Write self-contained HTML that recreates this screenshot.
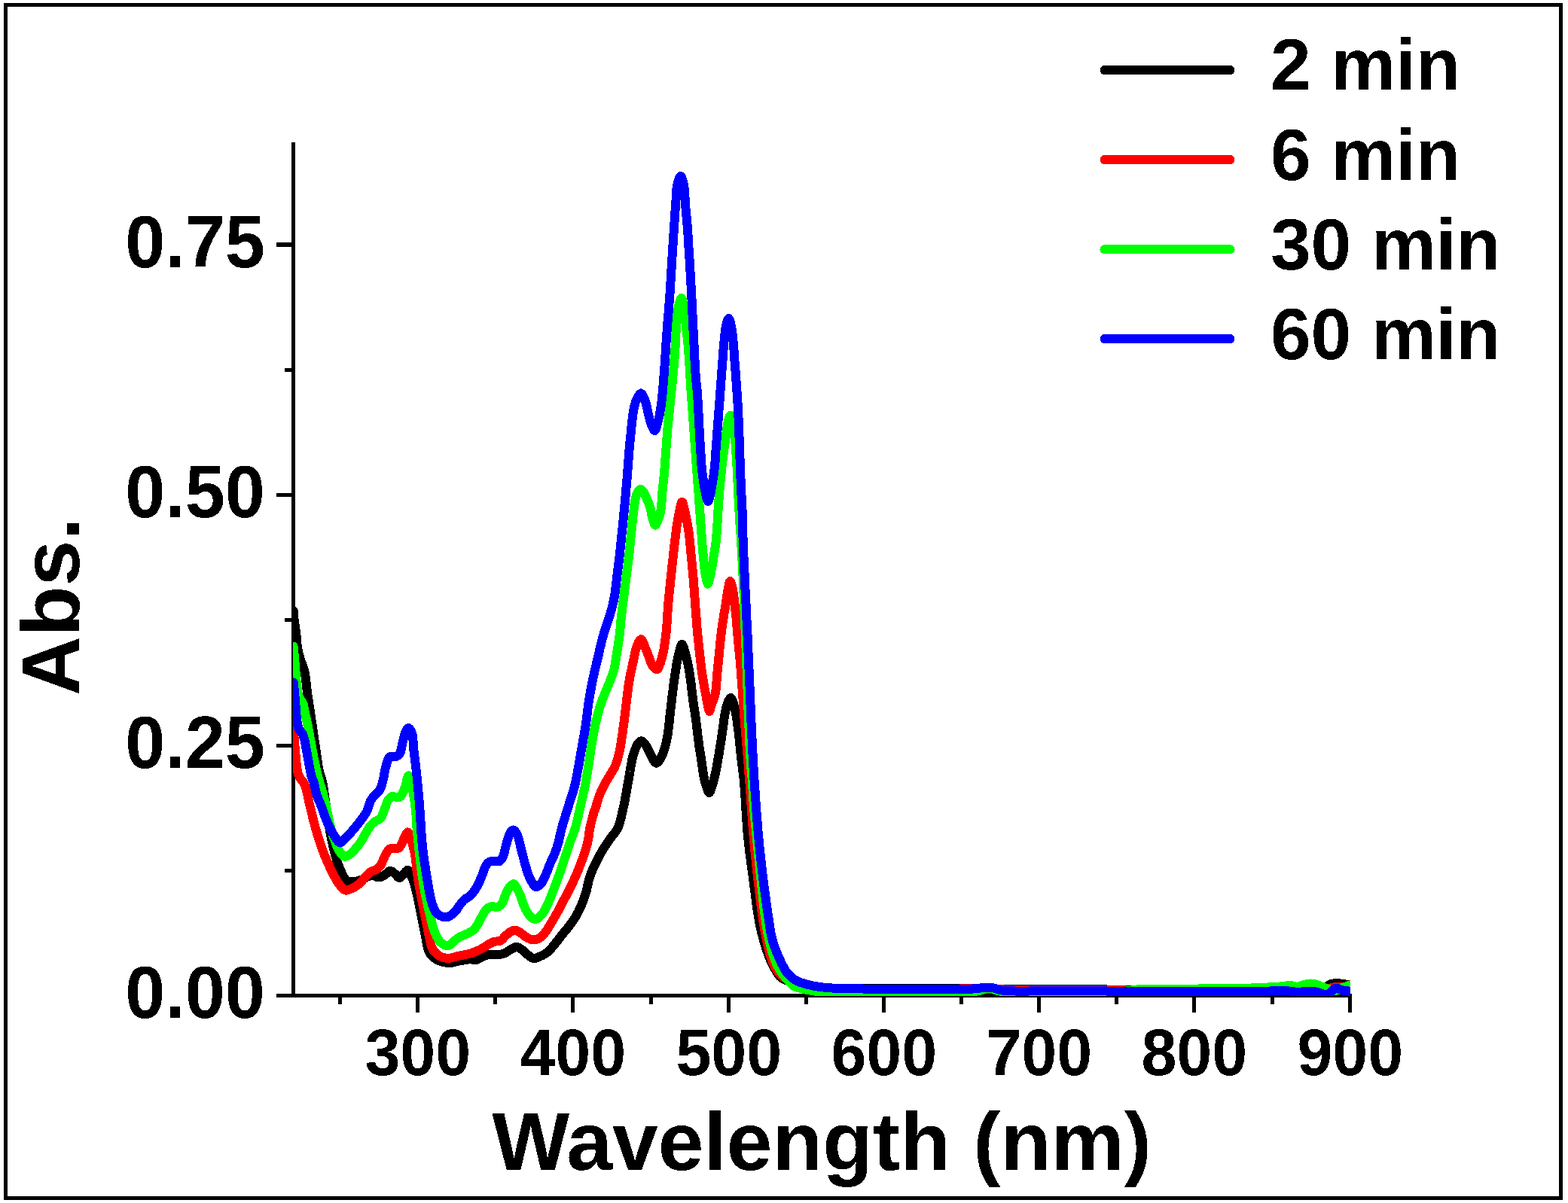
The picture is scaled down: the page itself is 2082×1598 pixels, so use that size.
<!DOCTYPE html>
<html lang="en">
<head>
<meta charset="utf-8">
<title>UV-Vis absorption spectra</title>
<style>
html,body{margin:0;padding:0;background:#fff;}
body{width:2082px;height:1598px;}
svg{display:block;}
</style>
</head>
<body>
<svg width="2082" height="1598" viewBox="0 0 2082 1598">
<rect x="0" y="0" width="2082" height="1598" fill="#fff"/>
<rect x="7.5" y="6.5" width="2065" height="1585" fill="#fff" stroke="#000" stroke-width="5"/>
<g fill="#000" shape-rendering="crispEdges">
<rect x="387" y="189" width="5" height="1136"/>
<rect x="367" y="1320" width="1428" height="5"/>
<rect x="449" y="1320" width="5" height="14"/>
<rect x="552" y="1320" width="5" height="25"/>
<rect x="655" y="1320" width="5" height="14"/>
<rect x="758" y="1320" width="5" height="25"/>
<rect x="862" y="1320" width="5" height="14"/>
<rect x="965" y="1320" width="5" height="25"/>
<rect x="1068" y="1320" width="5" height="14"/>
<rect x="1171" y="1320" width="5" height="25"/>
<rect x="1274" y="1320" width="5" height="14"/>
<rect x="1377" y="1320" width="5" height="25"/>
<rect x="1480" y="1320" width="5" height="14"/>
<rect x="1583" y="1320" width="5" height="25"/>
<rect x="1687" y="1320" width="5" height="14"/>
<rect x="1790" y="1320" width="5" height="25"/>
<rect x="378" y="1154" width="9" height="5"/>
<rect x="367" y="988" width="20" height="5"/>
<rect x="378" y="821" width="9" height="5"/>
<rect x="367" y="655" width="20" height="5"/>
<rect x="378" y="489" width="9" height="5"/>
<rect x="367" y="322" width="20" height="6"/>
</g>
<clipPath id="c"><rect x="389" y="150" width="1404" height="1173"/></clipPath>
<g clip-path="url(#c)" shape-rendering="crispEdges">
<polyline points="389.7,811.5 389.9,814.1 390.0,816.6 390.2,819.2 390.5,822.0 390.8,824.4 391.1,826.9 391.5,829.5 391.9,832.2 392.4,835.0 392.7,837.8 393.1,840.5 393.4,843.0 393.6,845.5 393.8,848.1 394.0,850.7 394.2,853.3 394.4,855.8 394.7,858.3 395.1,860.7 395.6,863.5 396.3,866.3 396.9,869.0 397.7,871.6 398.4,874.2 399.2,876.8 400.0,879.2 400.9,881.4 401.7,883.6 402.6,885.9 403.5,888.3 404.2,891.0 404.7,893.1 405.1,895.4 405.5,897.9 405.8,900.4 406.1,903.1 406.4,905.7 406.7,908.5 407.0,911.1 407.3,913.8 407.6,916.4 407.9,918.9 408.2,921.2 408.6,923.9 409.0,926.5 409.4,929.1 409.8,931.6 410.2,934.0 410.5,936.4 410.9,938.9 411.3,941.4 411.7,943.9 412.1,946.5 412.4,949.0 412.8,951.5 413.2,954.0 413.6,956.6 413.9,959.1 414.3,961.6 414.7,964.1 415.0,966.6 415.4,969.1 415.8,971.7 416.2,974.2 416.6,976.7 416.9,979.2 417.3,981.7 417.7,984.2 418.0,986.7 418.4,989.3 418.8,991.8 419.2,994.3 419.5,996.8 419.9,999.4 420.3,1001.9 420.7,1004.4 421.0,1007.0 421.4,1009.5 421.7,1012.1 422.1,1014.6 422.5,1017.2 422.9,1019.6 423.4,1022.1 424.0,1024.7 424.7,1027.3 425.5,1029.8 426.3,1032.3 427.1,1034.8 427.8,1037.4 428.4,1040.0 428.9,1042.5 429.3,1044.9 429.7,1047.5 430.0,1050.0 430.4,1052.6 430.7,1055.1 431.0,1057.7 431.4,1060.2 431.8,1062.7 432.2,1065.2 432.6,1067.7 432.9,1070.2 433.3,1072.8 433.7,1075.3 434.1,1077.8 434.5,1080.3 434.9,1082.8 435.2,1085.3 435.6,1087.9 435.9,1090.4 436.3,1092.9 436.7,1095.5 437.1,1098.0 437.5,1100.5 437.9,1103.0 438.4,1105.6 438.9,1108.1 439.4,1110.6 439.9,1113.1 440.4,1115.7 440.9,1118.2 441.5,1120.7 442.1,1123.2 442.7,1125.8 443.3,1128.4 443.9,1131.0 444.5,1133.5 445.2,1136.0 445.9,1138.5 446.6,1140.9 447.5,1143.7 448.4,1146.5 449.4,1149.2 450.4,1151.9 451.4,1154.5 452.6,1157.0 453.8,1159.5 454.9,1162.0 456.2,1164.5 457.6,1166.8 459.0,1168.7 460.7,1170.1 463.0,1171.0 465.6,1171.4 468.2,1171.3 470.8,1171.1 473.4,1170.7 476.0,1169.9 478.5,1169.0 480.9,1168.1 483.7,1166.8 486.3,1165.3 488.9,1164.1 491.9,1163.1 495.0,1162.7 497.6,1163.5 500.4,1164.9 503.1,1165.5 505.8,1164.9 508.5,1163.5 511.1,1162.0 513.6,1160.0 515.9,1157.7 518.2,1156.6 521.2,1158.0 524.2,1160.6 526.3,1162.7 528.3,1165.0 530.3,1166.1 532.3,1165.2 534.4,1163.1 536.3,1161.0 538.9,1157.6 541.3,1155.6 543.2,1157.6 545.0,1161.0 546.3,1163.7 547.6,1166.6 548.7,1169.5 549.8,1172.8 550.8,1176.4 551.5,1178.9 552.2,1181.6 552.9,1184.4 553.6,1187.4 554.3,1190.2 554.9,1192.9 555.4,1195.7 556.0,1198.4 556.5,1201.2 557.0,1203.9 557.6,1206.7 558.1,1209.4 558.7,1212.2 559.2,1214.9 559.8,1217.7 560.3,1220.5 560.9,1223.2 561.4,1226.0 562.0,1228.7 562.5,1231.5 563.1,1234.2 563.6,1237.0 564.2,1239.7 564.7,1242.5 565.3,1245.2 565.8,1248.0 566.3,1251.0 566.9,1253.8 567.4,1256.6 568.0,1259.0 569.1,1262.6 570.4,1265.7 572.0,1268.3 574.0,1270.5 576.2,1272.4 578.6,1274.0 581.8,1275.6 585.4,1277.0 587.9,1277.7 590.6,1278.4 593.5,1278.9 596.4,1279.1 599.1,1278.9 601.8,1278.4 604.6,1277.7 607.4,1277.0 610.2,1276.4 613.0,1275.9 615.8,1275.4 618.7,1274.9 621.4,1274.5 623.9,1274.3 626.8,1274.6 629.5,1275.0 632.2,1275.0 634.7,1274.1 637.3,1272.7 639.8,1271.2 642.3,1270.0 644.9,1269.1 647.5,1268.5 650.3,1268.0 653.2,1267.9 656.3,1268.0 659.5,1268.1 662.4,1268.0 665.3,1267.5 667.9,1266.9 670.5,1265.9 673.2,1264.4 675.9,1262.5 678.6,1260.9 681.3,1259.5 683.9,1258.3 686.6,1257.9 689.3,1258.9 692.0,1260.8 694.7,1262.9 696.8,1264.6 698.8,1266.6 700.8,1268.4 702.8,1270.0 705.7,1272.0 708.8,1273.0 711.7,1272.6 714.9,1271.4 718.0,1270.0 720.8,1268.7 723.5,1267.2 726.0,1265.5 728.3,1263.6 730.4,1261.5 732.6,1259.0 734.0,1257.4 735.5,1255.6 737.0,1253.7 738.5,1251.8 740.2,1249.7 741.8,1247.5 743.6,1245.2 745.0,1243.4 746.5,1241.5 748.1,1239.5 749.8,1237.5 751.5,1235.4 753.2,1233.3 754.9,1231.1 756.6,1228.9 758.3,1226.6 759.9,1224.4 761.5,1222.1 762.9,1219.9 764.3,1217.7 765.6,1215.5 766.8,1213.2 768.0,1211.0 769.1,1208.7 770.2,1206.4 771.2,1204.1 772.2,1201.8 773.1,1199.5 774.0,1197.2 774.9,1194.9 775.8,1192.5 776.6,1190.2 777.4,1187.7 778.1,1185.2 778.8,1182.7 779.4,1180.2 779.9,1177.7 780.5,1175.2 781.0,1172.7 781.6,1170.2 782.3,1167.6 783.0,1165.1 783.9,1162.6 784.8,1160.3 785.7,1158.0 786.7,1155.6 787.7,1153.3 788.8,1150.9 789.9,1148.6 791.0,1146.2 792.2,1143.9 793.4,1141.6 794.5,1139.4 795.7,1137.2 796.9,1135.1 798.0,1133.0 799.4,1130.5 800.9,1128.1 802.3,1125.8 803.8,1123.5 805.3,1121.3 806.8,1119.2 808.2,1117.0 809.6,1115.0 811.0,1113.0 812.6,1110.7 814.3,1108.7 815.9,1106.7 817.4,1104.7 818.9,1102.5 820.2,1100.0 821.1,1098.0 821.9,1095.7 822.7,1093.4 823.4,1091.0 824.1,1088.4 824.8,1085.8 825.4,1083.2 826.0,1080.6 826.5,1077.9 827.1,1075.3 827.7,1072.8 828.3,1070.3 828.8,1067.8 829.3,1065.3 829.8,1062.8 830.2,1060.3 830.7,1057.8 831.1,1055.3 831.6,1052.7 832.0,1050.2 832.5,1047.7 832.9,1045.2 833.4,1042.7 833.8,1040.1 834.3,1037.4 834.7,1034.8 835.2,1032.2 835.6,1029.6 836.0,1027.0 836.5,1024.5 836.9,1022.1 837.3,1019.8 837.7,1017.7 838.3,1014.6 838.8,1011.7 839.3,1009.0 839.9,1006.4 840.5,1003.9 841.3,1001.3 842.1,998.9 843.0,996.5 843.9,994.3 845.0,991.8 846.1,989.4 847.4,987.4 849.3,985.2 851.5,984.2 853.5,985.2 855.7,987.5 857.7,990.2 858.9,992.1 860.1,994.4 861.2,996.8 862.3,999.3 863.4,1001.7 864.6,1003.9 866.3,1007.0 868.0,1010.2 869.7,1012.7 871.5,1013.7 873.1,1013.0 874.8,1011.1 876.4,1008.4 878.0,1005.5 879.4,1002.6 880.4,1000.5 881.2,998.2 882.0,995.9 882.8,993.4 883.5,990.8 884.1,988.1 884.8,985.3 885.4,982.4 885.8,980.3 886.2,978.0 886.6,975.7 886.9,973.3 887.3,970.9 887.6,968.3 887.9,965.8 888.2,963.1 888.5,960.5 888.8,957.8 889.0,955.2 889.3,952.5 889.6,949.9 889.9,947.2 890.2,944.6 890.5,942.1 890.8,939.6 891.1,937.0 891.4,934.4 891.7,931.9 892.0,929.3 892.3,926.7 892.6,924.1 892.9,921.5 893.3,919.0 893.6,916.4 893.9,913.9 894.2,911.4 894.5,908.9 894.8,906.5 895.2,904.1 895.5,901.7 895.9,899.0 896.3,896.3 896.7,893.6 897.1,890.9 897.5,888.3 897.9,885.7 898.3,883.1 898.7,880.6 899.2,878.2 899.6,875.9 900.1,873.6 900.6,871.5 901.4,868.2 902.2,864.7 903.0,861.4 903.9,858.6 904.8,856.6 905.6,855.9 906.6,857.0 907.6,859.6 908.6,862.9 909.5,866.0 910.3,868.9 911.1,871.8 911.8,874.8 912.5,878.0 913.1,880.6 913.6,883.2 914.2,886.0 914.7,888.8 915.3,891.9 915.8,895.1 916.1,897.2 916.4,899.5 916.8,901.8 917.1,904.3 917.4,906.8 917.7,909.4 918.0,912.0 918.3,914.7 918.6,917.3 918.9,919.9 919.3,922.5 919.6,925.1 919.9,927.6 920.2,930.0 920.6,932.7 920.9,935.3 921.3,937.9 921.7,940.5 922.1,943.0 922.5,945.6 922.9,948.1 923.2,950.6 923.6,953.1 924.0,955.6 924.3,958.2 924.6,960.8 924.9,963.3 925.3,965.9 925.5,968.4 925.8,971.0 926.1,973.5 926.4,976.1 926.7,978.6 927.0,981.2 927.4,983.7 927.7,986.3 928.1,988.9 928.4,991.5 928.8,994.1 929.2,996.8 929.6,999.4 930.1,1002.1 930.5,1004.7 930.9,1007.2 931.3,1009.7 931.6,1012.2 932.0,1014.5 932.4,1017.4 932.8,1020.3 933.2,1023.0 933.5,1025.7 933.9,1028.4 934.3,1030.9 934.8,1033.3 935.4,1036.0 936.1,1038.5 936.9,1041.0 937.6,1043.3 938.4,1045.5 939.4,1048.7 940.5,1051.7 941.6,1053.1 943.1,1051.1 944.5,1047.4 945.5,1044.5 946.4,1041.4 947.3,1038.0 948.0,1035.4 948.6,1032.7 949.3,1029.8 950.0,1026.9 950.6,1023.9 951.1,1021.4 951.6,1018.8 952.1,1016.2 952.5,1013.6 953.0,1010.8 953.5,1008.0 954.0,1005.1 954.4,1002.8 954.8,1000.3 955.2,997.8 955.6,995.3 956.0,992.7 956.5,990.0 956.9,987.4 957.3,984.7 957.7,982.1 958.1,979.5 958.5,976.9 958.9,974.3 959.2,971.6 959.6,969.0 960.0,966.2 960.3,963.5 960.7,960.9 961.0,958.2 961.4,955.7 961.7,953.3 962.1,951.0 962.5,948.8 963.1,945.8 963.6,942.9 964.2,940.3 964.8,937.9 965.6,935.5 967.0,931.9 968.7,928.5 970.2,927.0 971.9,929.0 973.5,933.0 974.2,935.1 974.8,937.4 975.4,940.0 976.0,942.7 976.5,945.4 977.0,948.0 977.5,950.6 977.9,953.3 978.4,956.0 978.8,958.7 979.1,961.4 979.5,964.0 979.9,966.7 980.2,969.3 980.5,971.9 980.9,974.7 981.2,977.7 981.4,979.8 981.7,982.1 981.9,984.5 982.2,987.0 982.4,989.6 982.7,992.2 982.9,994.8 983.2,997.4 983.4,1000.1 983.7,1002.7 984.0,1005.2 984.3,1007.7 984.6,1010.2 984.9,1012.7 985.2,1015.2 985.6,1017.8 985.9,1020.3 986.2,1022.8 986.5,1025.3 986.9,1027.8 987.1,1030.3 987.4,1032.8 987.7,1035.5 987.9,1038.1 988.1,1040.7 988.3,1043.3 988.5,1045.9 988.7,1048.5 988.9,1051.2 989.1,1054.0 989.3,1056.9 989.5,1060.0 989.7,1062.2 989.8,1064.4 989.9,1066.7 990.1,1069.0 990.2,1071.4 990.4,1073.8 990.5,1076.3 990.7,1078.8 990.8,1081.3 991.0,1083.9 991.1,1086.5 991.3,1089.1 991.5,1091.7 991.6,1094.4 991.8,1097.0 992.0,1099.6 992.2,1102.2 992.4,1104.8 992.7,1107.4 992.9,1110.0 993.1,1112.5 993.4,1114.9 993.7,1117.4 993.9,1119.9 994.2,1122.4 994.5,1124.8 994.8,1127.3 995.1,1129.9 995.4,1132.4 995.8,1134.9 996.1,1137.4 996.4,1139.9 996.8,1142.4 997.1,1145.0 997.4,1147.5 997.8,1150.0 998.1,1152.5 998.5,1155.1 998.8,1157.6 999.1,1160.1 999.5,1162.6 999.8,1165.1 1000.1,1167.6 1000.5,1170.2 1000.8,1172.8 1001.1,1175.4 1001.5,1178.0 1001.8,1180.7 1002.1,1183.3 1002.5,1185.9 1002.8,1188.6 1003.1,1191.2 1003.5,1193.9 1003.8,1196.5 1004.2,1199.0 1004.5,1201.6 1004.9,1204.1 1005.2,1206.6 1005.6,1209.0 1005.9,1211.4 1006.3,1213.7 1006.7,1215.9 1007.0,1218.1 1007.4,1220.2 1007.9,1223.1 1008.5,1225.8 1009.0,1228.4 1009.5,1231.0 1010.0,1233.4 1010.6,1235.9 1011.1,1238.2 1011.7,1240.6 1012.3,1242.9 1012.9,1245.3 1013.6,1247.7 1014.3,1250.3 1015.1,1253.0 1015.9,1255.7 1016.8,1258.3 1017.6,1261.0 1018.5,1263.6 1019.4,1266.1 1020.3,1268.5 1021.1,1270.8 1022.0,1273.0 1023.2,1275.9 1024.4,1278.6 1025.7,1281.1 1027.0,1283.5 1028.4,1286.0 1029.7,1288.3 1031.0,1290.6 1032.4,1292.9 1033.9,1295.1 1035.6,1297.2 1037.5,1298.9 1039.6,1300.2 1041.9,1301.3 1044.4,1302.2 1047.0,1302.9 1049.7,1303.6 1052.4,1304.3 1055.0,1305.0 1057.4,1305.7 1059.8,1306.4 1062.3,1307.1 1064.7,1307.8 1067.2,1308.4 1069.8,1309.0 1072.4,1309.5 1075.0,1310.0 1077.3,1310.4 1079.5,1310.7 1081.7,1311.0 1084.0,1311.3 1086.3,1311.5 1088.6,1311.8 1091.2,1312.0 1093.9,1312.1 1096.8,1312.3 1100.0,1312.5 1101.7,1312.6 1103.5,1312.7 1105.4,1312.7 1107.3,1312.8 1109.3,1312.9 1111.4,1312.9 1113.5,1312.9 1115.7,1313.0 1118.0,1313.0 1120.3,1313.1 1122.7,1313.1 1125.1,1313.1 1127.6,1313.1 1130.1,1313.1 1132.6,1313.1 1135.2,1313.2 1137.8,1313.2 1140.5,1313.2 1143.1,1313.2 1145.8,1313.2 1148.5,1313.1 1151.3,1313.1 1154.0,1313.1 1156.8,1313.1 1159.6,1313.1 1162.3,1313.1 1165.1,1313.1 1167.9,1313.1 1170.7,1313.1 1173.4,1313.1 1176.2,1313.0 1178.9,1313.0 1181.7,1313.0 1184.4,1313.0 1187.0,1313.0 1189.7,1313.0 1192.3,1313.0 1194.9,1313.0 1197.5,1313.0 1200.0,1313.0 1202.5,1313.0 1205.1,1313.0 1207.7,1313.0 1210.3,1313.0 1212.9,1313.0 1215.6,1313.0 1218.2,1313.0 1220.9,1313.0 1223.6,1313.0 1226.4,1313.0 1229.1,1313.0 1231.8,1313.0 1234.6,1313.0 1237.3,1313.0 1240.1,1313.0 1242.8,1313.0 1245.5,1313.0 1248.3,1313.0 1251.0,1312.9 1253.7,1312.9 1256.3,1312.9 1259.0,1312.9 1261.6,1312.9 1264.2,1312.9 1266.8,1312.9 1269.3,1312.9 1271.8,1312.9 1274.3,1312.9 1276.7,1312.9 1279.1,1312.9 1281.4,1312.9 1283.7,1312.9 1286.0,1312.9 1288.2,1312.9 1290.3,1312.9 1292.4,1312.9 1294.4,1313.0 1296.3,1313.0 1298.2,1313.0 1300.0,1313.0 1303.1,1313.0 1305.8,1313.1 1308.4,1313.1 1310.7,1313.2 1312.9,1313.2 1315.1,1313.3 1317.2,1313.4 1319.5,1313.4 1321.8,1313.5 1324.3,1313.5 1327.0,1313.6 1330.0,1313.6 1331.9,1313.6 1333.8,1313.6 1335.8,1313.6 1337.9,1313.6 1340.1,1313.7 1342.3,1313.7 1344.5,1313.7 1346.9,1313.7 1349.2,1313.7 1351.7,1313.7 1354.1,1313.6 1356.6,1313.6 1359.2,1313.6 1361.7,1313.6 1364.3,1313.6 1367.0,1313.6 1369.6,1313.6 1372.3,1313.6 1375.0,1313.6 1377.7,1313.6 1380.4,1313.6 1383.2,1313.5 1385.9,1313.5 1388.6,1313.5 1391.3,1313.5 1394.0,1313.5 1396.7,1313.5 1399.4,1313.5 1402.1,1313.5 1404.7,1313.5 1407.4,1313.5 1410.0,1313.5 1412.5,1313.6 1415.1,1313.6 1417.6,1313.6 1420.0,1313.6 1422.6,1313.6 1425.1,1313.7 1427.6,1313.7 1430.2,1313.7 1432.7,1313.7 1435.2,1313.8 1437.6,1313.8 1440.1,1313.9 1442.6,1313.9 1445.0,1314.0 1447.5,1314.0 1450.0,1314.0 1452.4,1314.1 1454.8,1314.1 1457.3,1314.2 1459.7,1314.2 1462.2,1314.3 1464.6,1314.3 1467.1,1314.4 1469.6,1314.5 1472.0,1314.5 1474.5,1314.6 1477.0,1314.6 1479.5,1314.7 1482.0,1314.7 1484.5,1314.7 1487.1,1314.8 1489.6,1314.8 1492.2,1314.9 1494.8,1314.9 1497.4,1315.0 1500.0,1315.0 1502.4,1315.0 1504.7,1315.1 1507.1,1315.1 1509.5,1315.1 1512.0,1315.2 1514.4,1315.2 1516.8,1315.2 1519.3,1315.3 1521.7,1315.3 1524.2,1315.3 1526.7,1315.3 1529.2,1315.4 1531.7,1315.4 1534.2,1315.4 1536.7,1315.5 1539.2,1315.5 1541.7,1315.5 1544.2,1315.5 1546.8,1315.6 1549.3,1315.6 1551.8,1315.6 1554.4,1315.7 1556.9,1315.7 1559.5,1315.7 1562.0,1315.7 1564.6,1315.7 1567.1,1315.8 1569.6,1315.8 1572.2,1315.8 1574.7,1315.8 1577.3,1315.9 1579.8,1315.9 1582.4,1315.9 1584.9,1315.9 1587.4,1315.9 1589.9,1315.9 1592.5,1316.0 1595.0,1316.0 1597.5,1316.0 1600.0,1316.0 1602.5,1316.0 1605.0,1316.0 1607.6,1316.0 1610.1,1316.0 1612.7,1316.0 1615.3,1316.1 1617.9,1316.1 1620.5,1316.1 1623.1,1316.1 1625.7,1316.1 1628.3,1316.1 1630.9,1316.1 1633.6,1316.1 1636.2,1316.1 1638.8,1316.1 1641.4,1316.1 1644.0,1316.1 1646.7,1316.1 1649.3,1316.1 1651.9,1316.1 1654.4,1316.1 1657.0,1316.1 1659.6,1316.1 1662.1,1316.0 1664.7,1316.0 1667.2,1316.0 1669.7,1316.0 1672.2,1316.0 1674.6,1316.0 1677.1,1316.0 1679.5,1316.0 1681.9,1316.0 1684.3,1316.0 1686.6,1316.0 1688.9,1316.0 1691.2,1316.0 1693.5,1316.0 1695.7,1316.0 1697.9,1316.0 1700.0,1316.0 1702.9,1316.0 1705.8,1316.1 1708.7,1316.2 1711.6,1316.3 1714.5,1316.4 1717.4,1316.6 1720.3,1316.8 1723.1,1316.9 1726.0,1317.1 1728.7,1317.3 1731.4,1317.4 1734.0,1317.5 1736.6,1317.6 1739.1,1317.6 1741.5,1317.7 1743.8,1317.6 1746.0,1317.5 1748.0,1317.4 1750.0,1317.1 1751.8,1316.8 1753.5,1316.5 1755.0,1316.0 1757.7,1314.6 1759.8,1312.9 1761.5,1311.0 1763.2,1309.3 1765.0,1308.0 1767.6,1307.0 1770.3,1306.5 1773.0,1306.2 1775.4,1306.2 1777.9,1306.3 1780.5,1306.6 1783.0,1307.0 1785.5,1307.4 1788.0,1307.9 1790.5,1308.5 1793.0,1309.0" fill="none" stroke="#000000" stroke-width="12" stroke-linejoin="round" stroke-linecap="round"/>
<polyline points="389.7,969.6 389.9,972.3 390.2,975.0 390.4,977.8 390.6,980.6 390.9,983.3 391.1,986.1 391.3,988.8 391.5,991.5 391.8,994.2 392.0,996.8 392.3,999.4 392.5,1001.9 392.8,1004.7 393.0,1007.6 393.2,1010.4 393.5,1013.2 393.7,1015.8 394.0,1018.4 394.3,1020.8 394.7,1023.1 395.1,1025.1 396.0,1028.2 396.9,1030.7 398.2,1033.2 399.5,1035.1 401.1,1036.9 402.7,1038.9 404.2,1041.3 405.0,1043.1 405.7,1045.2 406.4,1047.5 407.0,1050.0 407.6,1052.6 408.2,1055.3 408.8,1058.1 409.3,1060.8 409.9,1063.6 410.5,1066.2 411.1,1068.8 411.7,1071.3 412.3,1073.8 413.0,1076.3 413.6,1078.9 414.2,1081.4 414.8,1083.9 415.4,1086.4 416.0,1088.9 416.7,1091.4 417.3,1093.9 418.0,1096.4 418.7,1099.1 419.5,1101.7 420.3,1104.4 421.0,1107.1 421.8,1109.7 422.6,1112.4 423.4,1115.0 424.2,1117.5 425.1,1120.0 425.9,1122.5 426.8,1125.1 427.8,1127.7 428.7,1130.2 429.7,1132.6 430.6,1135.1 431.6,1137.5 432.6,1139.9 433.7,1142.4 434.8,1145.0 436.0,1147.6 437.1,1150.2 438.3,1152.8 439.5,1155.4 440.8,1157.9 442.0,1160.3 443.2,1162.6 444.6,1165.1 446.0,1167.6 447.3,1170.0 448.7,1172.2 450.2,1174.3 451.6,1176.2 453.8,1178.9 456.0,1181.3 458.5,1182.6 460.9,1182.5 463.6,1181.7 466.3,1180.4 468.8,1179.2 471.6,1177.8 474.3,1176.1 476.8,1174.2 478.9,1172.1 480.9,1169.8 482.9,1167.4 484.9,1165.1 486.7,1163.1 488.4,1161.2 490.2,1159.4 492.0,1158.0 495.5,1156.7 499.0,1155.4 501.2,1153.9 503.2,1152.2 505.1,1150.0 506.4,1147.8 507.6,1145.1 508.7,1142.2 509.9,1139.4 511.1,1136.8 512.5,1134.2 514.0,1131.6 515.5,1129.4 517.2,1127.8 520.1,1126.9 523.2,1126.7 526.4,1127.0 529.3,1126.7 531.2,1124.7 532.8,1121.8 534.3,1118.7 535.7,1115.6 537.1,1112.4 538.4,1109.6 539.8,1106.8 541.3,1105.3 542.9,1106.9 544.5,1110.0 545.4,1112.2 546.1,1114.6 546.8,1117.2 547.5,1120.0 548.1,1122.3 548.7,1124.6 549.3,1127.1 549.8,1129.6 550.4,1132.3 550.9,1135.1 551.3,1137.3 551.6,1139.6 551.9,1142.0 552.2,1144.5 552.5,1147.0 552.7,1149.6 553.0,1152.3 553.3,1154.9 553.6,1157.5 553.9,1160.1 554.3,1162.6 554.7,1165.1 555.1,1167.6 555.5,1170.1 555.9,1172.6 556.3,1175.2 556.8,1177.7 557.2,1180.2 557.7,1182.7 558.2,1185.2 558.6,1187.7 559.1,1190.2 559.6,1192.7 560.1,1195.2 560.5,1197.7 561.0,1200.2 561.5,1202.7 562.1,1205.2 562.6,1207.7 563.1,1210.2 563.6,1212.7 564.1,1215.2 564.6,1217.7 565.1,1220.2 565.6,1222.8 566.1,1225.5 566.7,1228.1 567.2,1230.7 567.7,1233.3 568.2,1235.9 568.7,1238.4 569.2,1240.8 569.7,1243.1 570.2,1245.2 570.9,1248.4 571.4,1251.3 572.0,1254.1 572.7,1256.7 573.6,1259.0 575.0,1261.6 576.6,1263.9 578.5,1265.9 580.6,1267.8 582.9,1269.5 585.4,1270.8 588.4,1271.9 591.6,1272.6 595.0,1272.9 597.3,1272.7 599.8,1272.2 602.4,1271.6 605.1,1270.8 607.7,1270.1 610.2,1269.5 613.0,1269.0 615.7,1268.5 618.5,1268.0 621.2,1267.4 623.9,1266.7 626.7,1265.8 629.5,1264.8 632.2,1263.7 635.0,1262.5 637.7,1261.2 640.1,1259.9 642.6,1258.4 645.1,1256.8 647.4,1255.3 649.6,1254.0 651.5,1252.9 654.0,1251.7 656.4,1250.8 659.0,1250.5 661.8,1250.4 664.4,1249.8 666.6,1248.2 668.5,1246.0 670.5,1243.8 672.4,1242.0 674.5,1240.2 676.6,1238.6 678.6,1237.3 681.6,1236.0 684.6,1235.7 687.6,1236.8 690.7,1238.7 692.6,1240.1 694.6,1241.7 696.6,1243.4 698.7,1244.8 701.3,1246.3 704.1,1247.5 706.8,1248.2 709.5,1248.2 712.3,1247.8 714.9,1246.8 717.0,1245.5 719.0,1243.8 721.0,1241.8 722.9,1239.7 724.6,1237.6 726.2,1235.4 727.7,1233.0 729.3,1230.4 731.0,1227.6 732.2,1225.6 733.5,1223.5 734.7,1221.3 736.0,1219.0 737.4,1216.7 738.7,1214.3 740.1,1211.8 741.5,1209.2 742.9,1206.6 744.3,1203.9 745.4,1201.9 746.5,1199.8 747.6,1197.7 748.7,1195.5 749.9,1193.3 751.1,1191.0 752.3,1188.7 753.5,1186.4 754.7,1184.1 755.9,1181.7 757.1,1179.3 758.3,1176.9 759.5,1174.5 760.6,1172.1 761.7,1169.7 762.8,1167.3 763.9,1164.9 764.9,1162.6 765.9,1160.2 766.9,1157.7 768.0,1155.2 769.0,1152.7 770.0,1150.1 771.0,1147.6 771.9,1145.0 772.9,1142.5 773.8,1139.9 774.7,1137.4 775.5,1135.0 776.3,1132.5 777.1,1130.2 777.8,1127.8 778.5,1125.6 779.1,1123.4 779.7,1121.3 780.4,1118.3 781.0,1115.5 781.4,1112.8 781.8,1110.2 782.1,1107.6 782.4,1105.1 782.8,1102.6 783.3,1100.0 783.9,1097.4 784.5,1094.7 785.1,1092.0 785.8,1089.3 786.4,1086.7 787.1,1084.3 787.7,1082.0 788.3,1080.0 789.2,1077.4 790.0,1075.2 790.9,1072.8 791.7,1070.3 792.4,1067.6 793.2,1064.7 794.1,1061.8 795.0,1059.0 795.9,1056.7 796.8,1054.4 797.8,1052.1 798.8,1049.8 799.9,1047.5 801.0,1045.2 802.2,1042.9 803.5,1040.6 804.8,1038.3 806.1,1036.1 807.5,1033.8 808.8,1031.5 810.2,1029.2 811.5,1026.9 812.9,1024.6 814.3,1022.4 815.6,1020.0 816.7,1017.7 817.8,1015.0 818.8,1012.2 819.7,1009.5 820.5,1006.7 821.2,1003.9 821.9,1001.2 822.4,998.7 823.0,996.0 823.5,993.3 824.0,990.2 824.4,988.1 824.7,985.8 825.1,983.4 825.5,980.9 825.9,978.3 826.3,975.7 826.7,973.0 827.0,970.4 827.4,967.7 827.8,965.1 828.1,962.6 828.4,960.1 828.8,957.6 829.1,955.1 829.4,952.6 829.7,950.1 830.0,947.6 830.3,945.1 830.6,942.6 830.9,940.1 831.2,937.6 831.5,935.1 831.8,932.6 832.1,930.1 832.4,927.6 832.7,925.1 833.0,922.5 833.3,920.0 833.6,917.5 833.9,915.0 834.2,912.5 834.6,910.0 835.0,907.5 835.4,905.0 835.9,902.4 836.3,899.9 836.8,897.4 837.3,894.8 837.8,892.3 838.4,889.8 838.9,887.3 839.4,884.8 840.0,882.4 840.5,880.0 841.1,877.3 841.6,874.6 842.2,871.8 842.7,869.1 843.3,866.5 843.9,863.9 844.6,861.6 845.3,859.4 846.0,857.4 847.6,853.7 849.4,850.6 851.1,849.3 852.3,850.2 853.6,852.5 854.9,855.5 856.1,858.7 857.2,861.4 858.3,863.9 859.2,866.4 860.2,868.9 861.2,871.5 862.1,873.8 863.0,876.4 864.0,879.1 865.0,881.6 866.1,883.8 867.3,885.6 869.8,888.3 872.3,889.2 873.5,888.3 874.6,886.5 875.6,884.0 876.7,881.1 877.6,877.8 878.6,874.6 879.4,871.5 880.0,869.3 880.5,867.0 881.0,864.6 881.5,862.2 881.9,859.7 882.3,857.2 882.7,854.6 883.1,852.0 883.4,849.3 883.7,846.6 884.1,843.9 884.4,841.2 884.7,838.8 884.9,836.4 885.1,834.0 885.3,831.5 885.5,829.0 885.7,826.5 885.9,824.0 886.0,821.4 886.2,818.9 886.3,816.3 886.5,813.7 886.6,811.1 886.8,808.5 887.0,806.0 887.2,803.4 887.4,800.9 887.6,798.4 887.9,795.8 888.1,793.3 888.3,790.8 888.6,788.3 888.8,785.7 889.1,783.2 889.4,780.7 889.6,778.2 889.9,775.6 890.2,773.1 890.4,770.6 890.7,768.1 891.0,765.5 891.2,763.0 891.5,760.5 891.8,758.0 892.0,755.4 892.3,752.7 892.6,750.1 892.9,747.4 893.2,744.8 893.5,742.1 893.7,739.5 894.0,736.9 894.3,734.3 894.6,731.8 894.9,729.3 895.1,726.9 895.4,724.6 895.6,722.3 895.9,720.2 896.2,717.3 896.6,714.7 896.9,712.1 897.2,709.7 897.5,707.3 897.8,704.9 898.1,702.5 898.5,700.0 898.9,697.5 899.3,694.9 899.7,692.3 900.1,689.7 900.6,687.2 901.0,684.7 901.5,682.3 902.0,680.0 902.7,676.7 903.4,673.2 904.1,670.0 904.9,667.6 905.6,666.7 906.4,667.6 907.2,669.9 907.9,673.0 908.7,676.6 909.5,680.0 910.0,682.1 910.5,684.4 911.0,686.8 911.5,689.2 912.0,691.8 912.5,694.4 912.9,697.1 913.4,699.7 913.8,702.4 914.2,705.0 914.6,707.5 914.9,710.0 915.2,712.5 915.5,715.0 915.8,717.5 916.0,720.0 916.3,722.5 916.5,725.1 916.7,727.6 916.9,730.1 917.2,732.6 917.4,735.1 917.7,737.6 917.9,740.1 918.2,742.6 918.4,745.1 918.7,747.6 918.9,750.1 919.2,752.6 919.4,755.1 919.6,757.6 919.9,760.1 920.1,762.6 920.3,765.1 920.5,767.6 920.7,770.1 920.9,772.6 921.1,775.1 921.3,777.7 921.5,780.2 921.6,782.7 921.8,785.2 922.0,787.7 922.2,790.2 922.4,792.7 922.6,795.2 922.8,797.8 923.0,800.3 923.2,802.9 923.4,805.4 923.5,807.9 923.7,810.4 923.9,812.9 924.1,815.3 924.3,817.7 924.5,820.5 924.7,823.2 924.9,825.8 925.1,828.4 925.3,831.0 925.5,833.8 925.8,836.8 926.1,840.0 926.3,842.0 926.5,844.2 926.7,846.4 927.0,848.8 927.2,851.2 927.5,853.8 927.7,856.4 928.0,859.0 928.3,861.7 928.6,864.5 928.9,867.2 929.2,870.0 929.5,872.7 929.8,875.4 930.1,878.1 930.5,880.8 930.8,883.4 931.1,885.9 931.4,888.4 931.7,890.7 932.0,893.0 932.3,895.1 932.7,898.0 933.2,900.8 933.6,903.5 934.1,906.2 934.5,908.7 935.0,911.2 935.4,913.7 935.9,916.0 936.3,918.3 936.7,920.5 937.1,922.6 937.7,925.8 938.2,928.9 938.7,931.8 939.3,934.5 939.8,937.0 940.5,940.4 941.2,943.4 942.0,944.8 942.8,943.4 943.6,940.4 944.5,937.0 945.3,934.9 946.1,932.7 947.0,930.4 947.9,927.9 948.8,925.3 949.5,922.6 949.9,920.4 950.3,918.2 950.6,915.8 950.9,913.3 951.1,910.7 951.3,908.1 951.5,905.5 951.7,902.9 951.9,900.2 952.1,897.6 952.3,895.1 952.5,892.6 952.8,890.1 953.0,887.6 953.3,885.1 953.5,882.6 953.8,880.0 954.0,877.5 954.3,875.0 954.5,872.5 954.8,870.0 955.0,867.5 955.2,865.0 955.5,862.5 955.7,860.0 956.0,857.4 956.2,854.9 956.4,852.4 956.7,849.9 957.0,847.4 957.2,844.9 957.5,842.4 957.8,840.0 958.1,837.4 958.5,834.8 958.9,832.2 959.2,829.6 959.6,827.0 960.0,824.5 960.4,822.0 960.8,819.6 961.1,817.2 961.5,815.0 961.9,812.3 962.4,809.8 962.8,807.3 963.2,805.0 963.6,802.5 964.0,800.0 964.4,797.5 964.8,794.8 965.1,792.1 965.5,789.4 965.9,786.8 966.4,784.3 966.8,782.0 967.4,778.8 968.1,775.6 968.8,773.0 969.5,772.0 970.4,773.3 971.4,776.5 972.3,780.0 972.8,782.2 973.2,784.5 973.6,787.1 974.0,789.7 974.3,792.5 974.7,795.2 975.0,798.0 975.3,800.4 975.6,802.9 975.9,805.4 976.2,807.9 976.4,810.4 976.7,813.0 977.0,815.7 977.2,818.3 977.5,821.0 977.7,823.5 978.0,826.1 978.2,828.6 978.4,831.2 978.6,833.9 978.9,836.5 979.1,839.2 979.3,841.9 979.5,844.6 979.8,847.3 980.0,850.0 980.2,852.6 980.5,855.1 980.7,857.7 981.0,860.3 981.2,862.9 981.5,865.4 981.8,868.1 982.0,870.7 982.3,873.3 982.5,876.0 982.8,878.7 983.0,881.5 983.2,884.0 983.4,886.6 983.6,889.2 983.8,891.8 984.0,894.4 984.2,897.1 984.4,899.8 984.6,902.5 984.8,905.2 985.0,907.9 985.2,910.6 985.4,913.2 985.6,915.8 985.8,918.4 986.0,921.0 986.2,923.7 986.4,926.3 986.6,928.9 986.8,931.5 986.9,934.0 987.1,936.6 987.3,939.1 987.5,941.7 987.7,944.3 987.9,946.9 988.1,949.5 988.3,952.2 988.5,955.0 988.7,957.3 988.9,959.7 989.1,962.1 989.3,964.5 989.5,966.9 989.7,969.4 989.9,971.8 990.1,974.3 990.3,976.8 990.6,979.3 990.8,981.9 991.0,984.4 991.2,987.0 991.4,989.6 991.7,992.2 991.9,994.8 992.1,997.4 992.3,1000.0 992.5,1002.4 992.7,1004.8 992.9,1007.2 993.1,1009.7 993.3,1012.1 993.5,1014.6 993.6,1017.1 993.8,1019.6 994.0,1022.1 994.2,1024.6 994.4,1027.2 994.6,1029.7 994.8,1032.2 995.0,1034.8 995.2,1037.3 995.4,1039.8 995.6,1042.4 995.7,1044.9 995.9,1047.5 996.1,1050.0 996.3,1052.5 996.5,1055.0 996.7,1057.5 996.9,1060.0 997.0,1062.5 997.2,1065.0 997.4,1067.5 997.6,1070.0 997.7,1072.5 997.9,1075.0 998.1,1077.5 998.2,1080.0 998.4,1082.5 998.6,1085.0 998.8,1087.5 998.9,1090.0 999.1,1092.5 999.3,1095.0 999.5,1097.5 999.7,1100.0 999.9,1102.5 1000.1,1105.0 1000.3,1107.5 1000.5,1110.0 1000.7,1112.5 1000.9,1115.0 1001.2,1117.5 1001.4,1120.0 1001.6,1122.5 1001.9,1125.0 1002.1,1127.5 1002.3,1130.0 1002.6,1132.5 1002.8,1135.1 1003.1,1137.6 1003.3,1140.1 1003.6,1142.6 1003.8,1145.1 1004.1,1147.6 1004.4,1150.1 1004.6,1152.6 1004.9,1155.1 1005.2,1157.6 1005.4,1160.1 1005.7,1162.6 1006.0,1165.1 1006.3,1167.6 1006.6,1170.2 1006.9,1172.8 1007.2,1175.4 1007.5,1178.0 1007.8,1180.6 1008.1,1183.3 1008.4,1185.9 1008.7,1188.6 1009.1,1191.2 1009.4,1193.8 1009.7,1196.4 1010.0,1199.0 1010.3,1201.6 1010.7,1204.1 1011.0,1206.6 1011.3,1209.0 1011.6,1211.3 1012.0,1213.7 1012.3,1215.9 1012.6,1218.1 1012.9,1220.2 1013.3,1223.1 1013.8,1225.8 1014.2,1228.4 1014.6,1231.0 1015.0,1233.4 1015.4,1235.8 1015.8,1238.2 1016.3,1240.6 1016.7,1242.9 1017.2,1245.3 1017.7,1247.7 1018.3,1250.3 1018.8,1253.0 1019.4,1255.7 1020.0,1258.3 1020.6,1261.0 1021.3,1263.6 1021.9,1266.1 1022.6,1268.5 1023.3,1270.8 1024.0,1273.0 1025.0,1275.9 1026.1,1278.6 1027.2,1281.2 1028.4,1283.6 1029.8,1286.0 1031.3,1288.4 1033.0,1290.8 1034.8,1293.1 1036.7,1295.2 1038.7,1297.0 1041.3,1298.6 1044.1,1299.8 1047.0,1300.9 1050.0,1302.0 1052.3,1303.0 1054.7,1304.1 1057.2,1305.1 1059.7,1306.2 1062.3,1307.1 1065.0,1308.0 1067.3,1308.7 1069.7,1309.3 1072.2,1309.8 1074.6,1310.3 1077.2,1310.8 1079.8,1311.2 1082.4,1311.6 1085.0,1312.0 1087.3,1312.3 1089.6,1312.6 1091.8,1312.8 1094.0,1313.1 1096.3,1313.2 1098.7,1313.4 1101.3,1313.6 1104.0,1313.7 1106.9,1313.9 1110.0,1314.0 1111.8,1314.1 1113.6,1314.1 1115.5,1314.2 1117.5,1314.2 1119.6,1314.3 1121.7,1314.3 1123.9,1314.3 1126.2,1314.3 1128.5,1314.4 1130.8,1314.4 1133.2,1314.4 1135.7,1314.4 1138.2,1314.4 1140.7,1314.4 1143.3,1314.4 1145.9,1314.4 1148.6,1314.4 1151.2,1314.3 1153.9,1314.3 1156.6,1314.3 1159.3,1314.3 1162.1,1314.3 1164.8,1314.2 1167.6,1314.2 1170.3,1314.2 1173.1,1314.2 1175.9,1314.1 1178.6,1314.1 1181.4,1314.1 1184.1,1314.1 1186.8,1314.1 1189.5,1314.0 1192.2,1314.0 1194.8,1314.0 1197.4,1314.0 1200.0,1314.0 1202.5,1314.0 1204.9,1314.0 1207.5,1314.0 1210.0,1314.0 1212.6,1313.9 1215.2,1313.9 1217.9,1313.9 1220.5,1313.9 1223.2,1313.9 1225.9,1313.8 1228.6,1313.8 1231.3,1313.8 1234.0,1313.8 1236.8,1313.7 1239.5,1313.7 1242.2,1313.7 1244.9,1313.7 1247.7,1313.7 1250.4,1313.6 1253.1,1313.6 1255.7,1313.6 1258.4,1313.6 1261.0,1313.5 1263.6,1313.5 1266.2,1313.5 1268.8,1313.5 1271.3,1313.5 1273.8,1313.5 1276.3,1313.4 1278.7,1313.4 1281.1,1313.4 1283.4,1313.4 1285.7,1313.4 1287.9,1313.4 1290.1,1313.4 1292.2,1313.4 1294.2,1313.4 1296.2,1313.5 1298.1,1313.5 1300.0,1313.5 1303.1,1313.5 1305.9,1313.6 1308.5,1313.7 1311.0,1313.8 1313.3,1313.9 1315.5,1313.9 1317.7,1314.0 1320.0,1314.1 1322.3,1314.2 1324.7,1314.3 1327.2,1314.4 1330.0,1314.4 1333.0,1314.5 1335.0,1314.5 1337.0,1314.6 1339.2,1314.6 1341.4,1314.6 1343.6,1314.6 1345.9,1314.6 1348.3,1314.6 1350.7,1314.6 1353.2,1314.6 1355.7,1314.6 1358.2,1314.6 1360.8,1314.6 1363.4,1314.6 1366.1,1314.6 1368.7,1314.6 1371.4,1314.6 1374.1,1314.6 1376.9,1314.5 1379.6,1314.5 1382.4,1314.5 1385.1,1314.5 1387.9,1314.5 1390.7,1314.5 1393.4,1314.5 1396.2,1314.5 1398.9,1314.5 1401.6,1314.5 1404.3,1314.5 1407.0,1314.5 1409.7,1314.5 1412.3,1314.5 1414.9,1314.5 1417.5,1314.5 1420.0,1314.5 1422.5,1314.5 1425.1,1314.5 1427.6,1314.6 1430.1,1314.6 1432.6,1314.6 1435.1,1314.6 1437.6,1314.7 1440.0,1314.7 1442.5,1314.7 1444.9,1314.8 1447.4,1314.8 1449.9,1314.8 1452.3,1314.9 1454.8,1314.9 1457.2,1314.9 1459.7,1315.0 1462.1,1315.0 1464.6,1315.0 1467.0,1315.1 1469.5,1315.1 1472.0,1315.2 1474.5,1315.2 1476.9,1315.2 1479.5,1315.3 1482.0,1315.3 1484.5,1315.3 1487.0,1315.4 1489.6,1315.4 1492.2,1315.4 1494.8,1315.5 1497.4,1315.5 1500.0,1315.5 1502.4,1315.5 1504.7,1315.5 1507.1,1315.6 1509.5,1315.6 1512.0,1315.6 1514.4,1315.6 1516.8,1315.6 1519.3,1315.6 1521.7,1315.7 1524.2,1315.7 1526.7,1315.7 1529.2,1315.7 1531.7,1315.7 1534.2,1315.7 1536.7,1315.8 1539.2,1315.8 1541.7,1315.8 1544.2,1315.8 1546.8,1315.8 1549.3,1315.8 1551.8,1315.8 1554.4,1315.8 1556.9,1315.9 1559.5,1315.9 1562.0,1315.9 1564.6,1315.9 1567.1,1315.9 1569.6,1315.9 1572.2,1315.9 1574.7,1315.9 1577.3,1315.9 1579.8,1315.9 1582.4,1316.0 1584.9,1316.0 1587.4,1316.0 1589.9,1316.0 1592.5,1316.0 1595.0,1316.0 1597.5,1316.0 1600.0,1316.0 1602.5,1316.0 1605.0,1316.0 1607.6,1316.0 1610.2,1316.0 1612.7,1316.0 1615.3,1316.0 1617.9,1316.0 1620.5,1316.0 1623.2,1316.0 1625.8,1316.0 1628.4,1316.0 1631.1,1316.0 1633.7,1316.0 1636.4,1316.0 1639.0,1316.0 1641.6,1316.0 1644.3,1316.0 1646.9,1316.0 1649.5,1316.0 1652.1,1316.0 1654.7,1316.0 1657.3,1316.0 1659.9,1316.0 1662.5,1316.0 1665.0,1316.0 1667.5,1316.0 1670.0,1316.0 1672.5,1316.0 1675.0,1316.0 1677.4,1316.0 1679.8,1316.0 1682.2,1316.0 1684.5,1316.0 1686.9,1316.0 1689.1,1316.0 1691.4,1316.0 1693.6,1316.0 1695.8,1316.0 1697.9,1316.0 1700.0,1316.0 1702.9,1316.0 1705.8,1316.0 1708.7,1316.1 1711.6,1316.1 1714.4,1316.2 1717.2,1316.2 1719.9,1316.3 1722.6,1316.3 1725.3,1316.4 1727.9,1316.4 1730.5,1316.5 1732.9,1316.5 1735.4,1316.5 1737.7,1316.5 1740.0,1316.5 1742.2,1316.4 1744.3,1316.4 1746.3,1316.3 1748.2,1316.2 1750.0,1316.0 1753.1,1315.6 1755.8,1315.2 1758.3,1314.6 1760.6,1314.1 1762.8,1313.5 1765.0,1313.0 1767.6,1312.3 1770.1,1311.6 1772.5,1311.0 1775.0,1310.6 1777.5,1310.6 1780.1,1310.9 1782.6,1311.1 1785.0,1311.0 1787.8,1310.2 1790.4,1309.1 1793.0,1308.0" fill="none" stroke="#ff0000" stroke-width="12" stroke-linejoin="round" stroke-linecap="round"/>
<polyline points="389.7,858.6 389.9,861.2 390.1,863.8 390.3,866.4 390.6,869.0 390.8,871.6 391.0,874.3 391.2,877.1 391.5,880.0 391.7,882.4 391.9,885.0 392.1,887.7 392.4,890.5 392.6,893.3 392.8,896.2 393.1,899.1 393.3,901.9 393.6,904.6 393.8,907.2 394.1,909.6 394.3,911.9 394.6,913.9 395.0,917.1 395.4,919.9 395.9,922.4 396.7,924.9 397.9,927.4 399.4,929.7 400.9,932.1 402.2,934.6 403.0,936.9 403.5,939.2 404.0,941.7 404.5,944.3 405.0,947.0 405.5,949.5 406.1,952.1 406.7,954.8 407.3,957.6 407.9,960.5 408.6,963.4 409.1,966.2 409.7,969.0 410.2,971.6 410.7,974.3 411.2,976.9 411.6,979.6 412.1,982.2 412.6,984.8 413.0,987.4 413.5,990.0 414.0,992.5 414.4,995.1 414.9,997.6 415.4,1000.1 415.9,1002.6 416.3,1005.1 416.8,1007.6 417.3,1010.0 417.9,1012.9 418.4,1015.6 419.0,1018.2 419.6,1021.0 420.2,1023.9 421.0,1027.0 421.6,1029.2 422.2,1031.6 422.9,1034.1 423.7,1036.7 424.4,1039.3 425.2,1042.1 426.1,1044.8 426.9,1047.5 427.6,1050.2 428.4,1052.9 429.1,1055.4 429.8,1057.9 430.4,1060.2 431.1,1062.9 431.7,1065.6 432.3,1068.1 432.8,1070.5 433.3,1073.0 433.8,1075.4 434.3,1077.8 434.9,1080.3 435.5,1082.8 436.0,1085.4 436.6,1088.0 437.1,1090.5 437.7,1093.1 438.3,1095.6 438.9,1098.1 439.5,1100.5 440.3,1103.3 441.1,1106.1 441.9,1108.8 442.8,1111.5 443.7,1114.1 444.6,1116.7 445.5,1119.2 446.4,1121.7 447.3,1124.2 448.3,1126.6 449.4,1128.8 450.6,1130.8 452.8,1133.8 455.2,1136.4 457.7,1137.8 460.0,1137.5 462.4,1136.3 464.7,1134.8 466.8,1133.1 468.8,1131.1 470.8,1128.8 472.4,1127.0 474.0,1125.1 475.6,1123.1 477.2,1120.9 478.8,1118.7 480.2,1116.5 481.6,1114.1 483.0,1111.6 484.3,1109.2 485.6,1106.8 486.9,1104.6 488.4,1102.1 489.9,1099.7 491.4,1097.5 493.0,1095.5 494.9,1093.6 496.9,1091.9 499.0,1090.4 502.1,1089.1 505.1,1087.4 506.6,1085.2 507.8,1082.4 509.0,1079.3 510.1,1076.3 511.1,1073.6 512.1,1070.8 513.0,1068.0 514.0,1065.4 515.2,1063.2 517.6,1060.1 520.2,1058.2 522.7,1058.1 525.3,1058.6 527.9,1059.2 530.3,1059.2 532.5,1057.2 534.3,1054.1 535.4,1051.9 536.5,1049.4 537.4,1046.7 538.4,1044.0 539.2,1041.0 540.0,1037.3 540.8,1033.9 541.6,1031.2 542.4,1030.2 543.3,1031.2 544.3,1033.7 545.2,1036.9 546.0,1040.0 546.6,1042.3 547.1,1044.6 547.6,1047.0 548.1,1049.6 548.5,1052.2 549.0,1055.0 549.4,1057.3 549.7,1059.7 550.1,1062.3 550.5,1064.9 550.9,1067.6 551.2,1070.2 551.5,1072.8 551.8,1075.4 552.1,1077.8 552.3,1080.0 552.5,1083.0 552.6,1085.8 552.7,1088.5 552.8,1091.1 552.9,1093.8 553.1,1096.5 553.4,1099.1 553.7,1101.7 554.0,1104.5 554.3,1107.5 554.5,1109.6 554.7,1111.9 555.0,1114.3 555.2,1116.8 555.5,1119.4 555.7,1122.0 556.0,1124.7 556.3,1127.3 556.5,1130.0 556.8,1132.6 557.1,1135.1 557.4,1137.6 557.7,1140.1 557.9,1142.6 558.2,1145.1 558.5,1147.6 558.8,1150.1 559.1,1152.6 559.5,1155.1 559.8,1157.6 560.1,1160.1 560.5,1162.6 560.9,1165.1 561.3,1167.6 561.7,1170.1 562.1,1172.6 562.5,1175.2 562.9,1177.7 563.4,1180.2 563.9,1182.7 564.3,1185.2 564.8,1187.7 565.3,1190.2 565.8,1192.7 566.4,1195.3 566.9,1198.0 567.5,1200.6 568.1,1203.2 568.7,1205.8 569.3,1208.4 569.9,1210.9 570.4,1213.3 571.0,1215.6 571.5,1217.7 572.2,1220.8 572.9,1223.6 573.6,1226.3 574.2,1228.9 575.0,1231.5 575.9,1234.4 576.9,1237.2 578.0,1239.9 579.2,1242.5 580.5,1245.1 581.9,1247.7 583.5,1250.1 585.4,1252.1 587.6,1253.7 590.2,1255.2 592.8,1256.1 595.0,1256.4 597.6,1255.2 600.0,1253.0 602.4,1250.9 604.9,1248.5 607.5,1246.4 610.7,1244.5 614.0,1243.0 616.3,1242.0 618.6,1241.1 621.0,1240.0 623.1,1238.9 625.4,1237.6 627.5,1236.2 629.5,1234.5 631.3,1232.3 633.0,1229.8 634.5,1227.2 636.0,1224.5 637.3,1222.1 638.6,1219.7 639.9,1217.2 641.2,1214.8 642.5,1212.6 644.4,1209.9 646.4,1207.4 648.5,1205.6 651.2,1204.5 654.0,1204.1 657.5,1204.6 661.0,1204.7 663.9,1203.0 666.5,1200.1 667.7,1198.1 668.7,1195.6 669.7,1192.9 670.6,1190.1 671.6,1187.4 672.6,1185.1 674.2,1182.2 675.8,1179.6 677.5,1177.5 679.8,1175.2 682.0,1174.2 684.1,1176.2 686.0,1179.5 687.4,1181.9 688.8,1184.5 690.2,1187.6 691.1,1189.7 692.0,1192.1 692.9,1194.8 693.8,1197.5 694.7,1200.3 695.7,1203.0 696.7,1205.4 697.7,1207.6 699.2,1210.4 700.7,1212.9 702.3,1215.1 704.0,1217.0 707.0,1219.7 710.2,1221.0 712.3,1220.5 714.6,1219.3 716.8,1217.5 718.9,1215.5 720.4,1213.6 721.9,1211.5 723.2,1209.1 724.5,1206.6 725.7,1204.0 727.0,1201.4 728.1,1199.1 729.1,1196.8 730.1,1194.4 731.1,1191.9 732.1,1189.4 733.1,1186.9 734.0,1184.5 735.0,1182.0 735.9,1179.6 736.8,1177.3 737.7,1175.1 738.5,1172.8 739.4,1170.4 740.3,1168.0 741.2,1165.4 742.2,1162.6 742.9,1160.6 743.7,1158.4 744.4,1156.1 745.2,1153.7 746.1,1151.2 746.9,1148.6 747.8,1146.0 748.6,1143.4 749.5,1140.7 750.4,1138.1 751.2,1135.5 752.1,1132.9 752.9,1130.4 753.7,1128.0 754.5,1125.6 755.3,1123.4 756.0,1121.3 757.0,1118.6 757.9,1116.1 758.8,1113.8 759.7,1111.5 760.6,1109.3 761.4,1107.1 762.2,1104.8 763.0,1102.5 763.8,1100.0 764.5,1097.7 765.1,1095.3 765.7,1092.9 766.3,1090.4 766.9,1087.9 767.5,1085.4 768.1,1082.9 768.6,1080.3 769.2,1077.8 769.7,1075.3 770.3,1072.8 770.9,1070.3 771.5,1067.8 772.1,1065.3 772.6,1062.8 773.2,1060.3 773.8,1057.8 774.4,1055.3 774.9,1052.7 775.5,1050.2 776.0,1047.7 776.5,1045.2 777.0,1042.7 777.5,1040.2 777.9,1037.7 778.4,1035.2 778.8,1032.7 779.2,1030.2 779.7,1027.7 780.1,1025.2 780.5,1022.7 780.9,1020.2 781.3,1017.7 781.7,1015.2 782.1,1012.7 782.4,1010.2 782.8,1007.7 783.2,1005.2 783.5,1002.7 783.9,1000.2 784.2,997.7 784.6,995.2 785.0,992.7 785.4,990.2 785.8,987.7 786.2,985.2 786.7,982.7 787.1,980.1 787.5,977.6 788.0,975.1 788.4,972.6 788.9,970.1 789.4,967.6 790.0,965.1 790.5,962.6 791.1,960.1 791.6,957.6 792.2,955.1 792.9,952.6 793.5,950.1 794.1,947.6 794.8,945.1 795.5,942.6 796.2,940.1 797.0,937.6 797.8,935.1 798.7,932.5 799.7,929.8 800.7,927.0 801.9,924.3 803.0,921.5 804.1,918.8 805.2,916.2 806.2,913.7 807.2,911.4 808.1,909.3 808.8,907.5 809.8,904.8 810.7,902.7 811.5,900.5 812.4,898.0 813.3,895.5 814.2,893.0 815.0,890.4 815.7,887.8 816.3,885.0 816.8,882.3 817.3,879.4 817.7,876.3 818.2,872.8 818.5,870.7 818.9,868.5 819.3,866.1 819.7,863.6 820.1,861.0 820.5,858.4 820.9,855.7 821.3,853.0 821.7,850.4 822.1,847.8 822.4,845.2 822.7,842.7 823.0,840.2 823.2,837.7 823.5,835.2 823.7,832.7 823.9,830.2 824.1,827.7 824.3,825.2 824.6,822.7 824.8,820.2 825.1,817.7 825.4,815.2 825.7,812.7 826.0,810.2 826.3,807.7 826.6,805.2 827.0,802.7 827.3,800.2 827.6,797.7 828.0,795.2 828.3,792.7 828.6,790.2 828.9,787.7 829.2,785.2 829.5,782.7 829.8,780.2 830.2,777.7 830.5,775.1 830.8,772.6 831.1,770.1 831.4,767.6 831.7,765.1 832.0,762.6 832.3,760.1 832.6,757.6 832.9,755.1 833.3,752.6 833.6,750.1 833.9,747.6 834.2,745.1 834.5,742.6 834.8,740.1 835.1,737.6 835.4,735.1 835.7,732.6 835.9,730.1 836.2,727.6 836.5,725.1 836.7,722.6 836.9,720.0 837.2,717.5 837.4,715.0 837.7,712.5 837.9,710.0 838.2,707.5 838.5,705.0 838.7,702.4 839.0,699.9 839.2,697.3 839.5,694.8 839.8,692.2 840.0,689.7 840.3,687.2 840.6,684.7 840.9,682.3 841.2,680.0 841.6,677.2 841.9,674.5 842.3,671.7 842.6,669.0 843.0,666.4 843.4,663.9 843.9,661.7 844.4,659.7 845.3,656.8 846.3,654.4 847.5,652.5 849.0,650.7 850.6,649.9 852.3,651.0 854.0,653.0 855.2,654.9 856.3,657.2 857.5,659.7 858.6,662.1 859.7,664.8 860.9,667.6 862.0,670.5 863.0,673.4 863.7,676.0 864.3,678.7 864.8,681.4 865.3,684.1 865.9,686.7 866.5,689.0 867.6,692.7 868.7,696.1 869.9,697.6 871.1,696.5 872.3,693.9 873.5,691.0 874.5,688.6 875.4,686.0 876.3,683.2 877.0,680.0 877.4,677.8 877.7,675.4 878.0,672.8 878.2,670.0 878.5,667.2 878.6,664.3 878.8,661.4 879.0,658.5 879.3,655.6 879.5,652.8 879.7,650.3 880.0,647.8 880.3,645.3 880.5,642.8 880.8,640.3 881.1,637.8 881.3,635.2 881.6,632.7 881.8,630.2 882.1,627.7 882.3,625.2 882.5,622.7 882.7,620.2 882.9,617.7 883.1,615.2 883.3,612.7 883.4,610.2 883.6,607.7 883.8,605.2 883.9,602.7 884.1,600.2 884.3,597.7 884.5,595.2 884.7,592.7 884.8,590.2 885.0,587.7 885.2,585.2 885.4,582.7 885.6,580.2 885.8,577.7 886.0,575.2 886.2,572.7 886.4,570.2 886.6,567.7 886.9,565.2 887.1,562.7 887.3,560.2 887.6,557.7 887.8,555.1 888.1,552.6 888.3,550.1 888.6,547.6 888.8,545.1 889.1,542.6 889.4,540.1 889.6,537.6 889.9,535.1 890.1,532.6 890.4,530.1 890.6,527.6 890.9,525.1 891.1,522.6 891.4,520.1 891.6,517.6 891.9,515.1 892.2,512.6 892.4,510.1 892.7,507.6 892.9,505.1 893.2,502.6 893.4,500.0 893.7,497.5 893.9,495.0 894.1,492.5 894.4,490.0 894.6,487.5 894.8,485.0 895.0,482.5 895.2,480.1 895.4,477.6 895.6,475.2 895.8,472.7 896.0,470.2 896.2,467.7 896.4,465.2 896.5,462.6 896.7,460.0 896.8,457.6 897.0,455.1 897.1,452.6 897.2,450.0 897.3,447.4 897.4,444.8 897.5,442.1 897.6,439.5 897.7,436.9 897.8,434.4 898.0,431.9 898.1,429.5 898.3,427.2 898.5,425.0 898.8,422.2 899.1,419.4 899.4,416.7 899.8,414.1 900.2,411.7 900.6,409.3 901.0,407.1 901.5,405.0 902.5,401.0 903.5,397.4 904.6,395.9 905.6,397.4 906.6,401.0 907.5,405.0 907.9,407.1 908.3,409.3 908.6,411.7 908.9,414.1 909.1,416.7 909.4,419.4 909.7,422.2 910.0,425.0 910.3,427.2 910.5,429.5 910.8,431.8 911.0,434.1 911.3,436.5 911.6,439.0 911.9,441.5 912.1,444.1 912.4,446.7 912.7,449.4 912.9,452.1 913.2,454.8 913.5,457.6 913.7,460.5 913.9,462.7 914.1,465.0 914.2,467.3 914.4,469.7 914.6,472.1 914.8,474.5 914.9,477.0 915.1,479.5 915.3,482.0 915.4,484.6 915.6,487.1 915.7,489.7 915.9,492.4 916.1,495.0 916.2,497.6 916.4,500.2 916.5,502.9 916.7,505.5 916.9,508.1 917.0,510.7 917.2,513.3 917.4,515.9 917.5,518.5 917.7,521.0 917.9,523.5 918.1,526.1 918.2,528.7 918.4,531.3 918.6,533.9 918.8,536.5 919.0,539.1 919.2,541.7 919.4,544.3 919.6,546.9 919.8,549.6 919.9,552.2 920.1,554.7 920.3,557.3 920.5,559.9 920.7,562.4 920.9,564.9 921.1,567.4 921.2,569.9 921.4,572.3 921.6,574.7 921.8,577.0 921.9,579.3 922.1,581.6 922.3,584.4 922.5,587.2 922.7,589.9 922.9,592.6 923.1,595.3 923.2,597.9 923.4,600.5 923.6,603.0 923.8,605.5 923.9,608.0 924.1,610.4 924.3,612.9 924.5,615.3 924.6,617.6 924.8,620.0 925.0,622.7 925.2,625.3 925.4,627.8 925.6,630.3 925.8,632.8 926.0,635.3 926.2,637.7 926.3,640.1 926.5,642.6 926.7,645.0 926.9,647.5 927.1,650.0 927.3,652.5 927.5,655.0 927.6,657.5 927.8,660.0 928.0,662.6 928.2,665.1 928.3,667.6 928.5,670.1 928.7,672.6 928.9,675.1 929.1,677.6 929.3,680.1 929.5,682.6 929.7,685.1 929.9,687.6 930.0,690.1 930.2,692.6 930.4,695.1 930.6,697.6 930.8,700.1 931.0,702.6 931.2,705.1 931.4,707.6 931.5,710.1 931.7,712.6 931.9,715.1 932.0,717.7 932.2,720.2 932.4,722.7 932.6,725.2 932.8,727.7 933.0,730.2 933.2,732.7 933.5,735.4 933.7,738.0 933.9,740.7 934.2,743.4 934.5,746.0 934.7,748.6 935.0,751.1 935.3,753.4 935.5,755.7 935.8,757.7 936.3,761.0 936.7,763.9 937.2,766.5 937.8,769.0 938.8,773.3 939.9,775.7 941.1,773.3 942.2,769.0 942.8,766.5 943.4,763.7 943.9,760.8 944.5,757.7 944.9,755.4 945.4,752.9 945.8,750.4 946.2,747.8 946.7,745.2 947.1,742.6 947.5,740.0 947.9,737.4 948.3,734.9 948.8,732.3 949.2,729.8 949.6,727.2 950.0,724.6 950.3,722.0 950.6,719.3 950.9,716.6 951.1,713.9 951.4,711.2 951.6,708.4 951.8,705.6 952.0,702.6 952.2,700.3 952.3,697.9 952.5,695.4 952.6,693.0 952.8,690.4 952.9,687.9 953.1,685.3 953.2,682.7 953.4,680.2 953.5,677.6 953.7,675.1 953.9,672.6 954.0,670.1 954.2,667.6 954.4,665.1 954.6,662.6 954.8,660.0 955.0,657.5 955.2,655.0 955.4,652.5 955.6,650.0 955.8,647.5 956.0,645.0 956.2,642.5 956.5,639.9 956.7,637.4 957.0,634.9 957.2,632.4 957.5,629.9 957.7,627.4 958.0,624.9 958.2,622.4 958.5,620.0 958.8,617.3 959.1,614.5 959.5,611.8 959.8,609.1 960.1,606.5 960.5,603.8 960.8,601.2 961.2,598.6 961.5,596.0 961.9,593.3 962.2,590.6 962.6,587.9 963.0,585.3 963.4,582.6 963.7,580.1 964.1,577.5 964.5,575.0 964.9,572.0 965.3,568.9 965.7,565.8 966.1,563.0 966.6,560.3 967.2,558.0 968.5,553.8 970.0,551.7 971.5,553.8 972.8,558.0 973.3,560.3 973.7,563.0 974.1,565.8 974.4,568.9 974.7,572.0 975.0,575.0 975.3,577.5 975.5,580.1 975.8,582.6 976.1,585.3 976.3,587.9 976.6,590.6 976.8,593.3 977.0,596.0 977.2,598.5 977.4,601.0 977.5,603.5 977.7,606.0 977.9,608.6 978.0,611.2 978.2,614.0 978.3,616.9 978.5,620.0 978.6,622.0 978.7,624.2 978.8,626.4 978.9,628.6 979.1,631.0 979.2,633.4 979.3,635.8 979.4,638.3 979.5,640.9 979.6,643.5 979.8,646.1 979.9,648.7 980.0,651.4 980.1,654.1 980.3,656.7 980.4,659.4 980.5,662.1 980.7,664.7 980.8,667.3 980.9,669.9 981.1,672.5 981.2,675.0 981.3,677.5 981.5,680.0 981.6,682.5 981.8,685.0 982.0,687.5 982.1,690.0 982.3,692.5 982.4,695.0 982.6,697.5 982.8,700.0 983.0,702.5 983.1,705.0 983.3,707.5 983.5,710.0 983.6,712.5 983.8,715.0 983.9,717.5 984.1,720.0 984.3,722.5 984.4,725.0 984.6,727.5 984.7,730.0 984.8,732.5 985.0,735.0 985.1,737.4 985.2,739.9 985.4,742.3 985.5,744.8 985.6,747.2 985.7,749.6 985.9,752.1 986.0,754.5 986.1,756.9 986.2,759.4 986.3,761.9 986.5,764.3 986.6,766.8 986.7,769.4 986.8,771.9 986.9,774.5 987.0,777.0 987.2,779.7 987.3,782.3 987.4,785.0 987.5,787.3 987.6,789.7 987.7,792.0 987.8,794.3 987.9,796.7 988.0,799.1 988.1,801.4 988.2,803.8 988.3,806.2 988.4,808.6 988.5,811.0 988.6,813.4 988.7,815.9 988.8,818.3 988.9,820.8 989.0,823.3 989.1,825.8 989.2,828.4 989.3,830.9 989.4,833.5 989.5,836.1 989.6,838.8 989.7,841.4 989.8,844.1 989.9,846.9 990.0,849.6 990.2,852.4 990.3,855.2 990.4,858.1 990.5,861.0 990.6,863.2 990.7,865.4 990.8,867.7 990.9,870.0 990.9,872.4 991.0,874.8 991.1,877.3 991.2,879.8 991.3,882.3 991.4,884.9 991.5,887.5 991.6,890.1 991.7,892.8 991.8,895.5 991.9,898.2 992.0,900.9 992.1,903.7 992.2,906.4 992.3,909.2 992.4,912.0 992.5,914.8 992.6,917.6 992.7,920.4 992.8,923.3 992.9,926.1 993.0,928.9 993.1,931.7 993.2,934.5 993.3,937.4 993.4,940.1 993.5,942.9 993.6,945.7 993.7,948.4 993.8,951.2 993.9,953.9 994.0,956.6 994.1,959.2 994.2,961.9 994.3,964.5 994.5,967.0 994.6,969.5 994.7,972.0 994.8,974.5 994.9,976.9 995.0,979.3 995.1,981.6 995.2,983.9 995.3,986.1 995.4,988.2 995.5,990.4 995.6,992.4 995.7,994.4 995.8,996.3 995.9,998.2 996.0,1000.0 996.2,1003.2 996.4,1006.2 996.6,1009.0 996.8,1011.8 997.0,1014.4 997.2,1016.9 997.3,1019.3 997.5,1021.7 997.7,1024.0 997.9,1026.3 998.1,1028.5 998.3,1030.8 998.5,1033.0 998.7,1035.3 998.8,1037.6 999.0,1040.0 999.2,1042.6 999.3,1045.1 999.5,1047.7 999.6,1050.2 999.8,1052.7 999.9,1055.2 1000.1,1057.6 1000.2,1060.1 1000.4,1062.6 1000.5,1065.1 1000.7,1067.5 1000.8,1070.0 1001.0,1072.5 1001.2,1075.0 1001.4,1077.5 1001.6,1079.9 1001.8,1082.4 1002.1,1084.8 1002.3,1087.2 1002.5,1089.6 1002.8,1092.0 1003.0,1094.4 1003.3,1096.9 1003.5,1099.4 1003.8,1102.0 1004.1,1104.6 1004.3,1107.3 1004.6,1110.0 1004.8,1112.2 1005.0,1114.5 1005.3,1116.9 1005.5,1119.3 1005.7,1121.7 1006.0,1124.1 1006.2,1126.6 1006.5,1129.1 1006.7,1131.7 1007.0,1134.2 1007.2,1136.8 1007.5,1139.4 1007.7,1141.9 1008.0,1144.5 1008.3,1147.1 1008.5,1149.7 1008.8,1152.3 1009.0,1154.9 1009.3,1157.5 1009.6,1160.0 1009.8,1162.6 1010.1,1165.1 1010.4,1167.6 1010.6,1170.2 1010.9,1172.8 1011.2,1175.4 1011.4,1178.0 1011.7,1180.6 1012.0,1183.3 1012.3,1185.9 1012.6,1188.6 1012.8,1191.2 1013.1,1193.8 1013.4,1196.4 1013.7,1199.0 1014.0,1201.6 1014.3,1204.1 1014.5,1206.6 1014.8,1209.0 1015.1,1211.3 1015.4,1213.7 1015.7,1215.9 1016.0,1218.1 1016.3,1220.2 1016.7,1223.1 1017.1,1225.8 1017.5,1228.4 1017.9,1231.0 1018.3,1233.4 1018.7,1235.9 1019.2,1238.2 1019.6,1240.6 1020.1,1242.9 1020.6,1245.3 1021.1,1247.7 1021.7,1250.3 1022.3,1252.9 1023.0,1255.5 1023.6,1258.2 1024.3,1260.8 1025.1,1263.3 1025.8,1265.8 1026.5,1268.2 1027.3,1270.5 1028.0,1272.6 1029.1,1275.6 1030.2,1278.3 1031.3,1280.8 1032.5,1283.3 1033.9,1285.8 1035.2,1288.0 1036.6,1290.2 1038.0,1292.3 1039.6,1294.4 1041.2,1296.5 1042.8,1298.5 1044.5,1300.5 1046.3,1302.6 1048.2,1304.6 1050.1,1306.5 1052.0,1308.2 1053.8,1309.5 1056.3,1310.8 1058.7,1311.6 1061.3,1312.4 1063.7,1313.1 1066.1,1313.7 1068.7,1314.3 1071.3,1314.8 1073.8,1315.3 1076.4,1315.7 1079.0,1316.1 1081.7,1316.5 1084.3,1316.8 1086.9,1317.0 1089.5,1317.1 1092.1,1317.2 1094.8,1317.3 1097.7,1317.4 1100.1,1317.5 1102.6,1317.6 1105.0,1317.7 1107.6,1317.7 1110.4,1317.8 1113.3,1317.9 1116.5,1318.0 1120.0,1318.0 1121.8,1318.0 1123.6,1318.0 1125.6,1318.0 1127.6,1318.1 1129.7,1318.1 1131.9,1318.1 1134.1,1318.1 1136.4,1318.1 1138.8,1318.0 1141.2,1318.0 1143.7,1318.0 1146.2,1318.0 1148.7,1318.0 1151.3,1318.0 1154.0,1318.0 1156.6,1317.9 1159.3,1317.9 1162.0,1317.9 1164.7,1317.9 1167.5,1317.9 1170.2,1317.9 1173.0,1317.8 1175.8,1317.8 1178.5,1317.8 1181.3,1317.8 1184.0,1317.8 1186.7,1317.8 1189.4,1317.7 1192.1,1317.7 1194.8,1317.7 1197.4,1317.7 1200.0,1317.7 1202.5,1317.7 1205.0,1317.7 1207.6,1317.7 1210.3,1317.7 1213.0,1317.7 1215.7,1317.8 1218.5,1317.8 1221.4,1317.8 1224.2,1317.9 1227.1,1317.9 1230.0,1317.9 1232.9,1318.0 1235.9,1318.0 1238.8,1318.0 1241.7,1318.1 1244.6,1318.1 1247.5,1318.1 1250.3,1318.2 1253.1,1318.2 1255.9,1318.2 1258.6,1318.2 1261.3,1318.2 1263.9,1318.2 1266.5,1318.2 1269.0,1318.2 1271.4,1318.2 1273.7,1318.2 1276.0,1318.2 1278.1,1318.2 1280.2,1318.1 1282.1,1318.1 1283.9,1318.0 1285.6,1318.0 1287.2,1317.9 1288.7,1317.8 1290.0,1317.7 1293.2,1317.4 1295.6,1317.0 1297.7,1316.5 1300.0,1316.0 1302.5,1315.3 1305.1,1314.4 1307.8,1313.5 1310.4,1312.8 1313.0,1312.5 1315.4,1312.8 1317.9,1313.5 1320.3,1314.4 1322.7,1315.3 1325.0,1316.0 1327.3,1316.5 1329.5,1316.9 1331.9,1317.2 1335.0,1317.5 1336.5,1317.6 1338.1,1317.7 1339.9,1317.7 1341.8,1317.8 1343.8,1317.8 1345.9,1317.9 1348.1,1317.9 1350.5,1317.9 1352.9,1317.9 1355.4,1317.9 1358.0,1317.9 1360.6,1317.9 1363.3,1317.9 1366.1,1317.8 1368.8,1317.8 1371.7,1317.8 1374.5,1317.7 1377.4,1317.7 1380.3,1317.7 1383.1,1317.6 1386.0,1317.6 1388.9,1317.6 1391.7,1317.5 1394.5,1317.5 1397.3,1317.5 1400.0,1317.5 1402.4,1317.5 1404.8,1317.5 1407.3,1317.5 1409.9,1317.5 1412.4,1317.5 1415.1,1317.5 1417.8,1317.5 1420.5,1317.6 1423.2,1317.6 1426.0,1317.6 1428.7,1317.6 1431.5,1317.6 1434.3,1317.6 1437.2,1317.7 1440.0,1317.7 1442.8,1317.7 1445.6,1317.7 1448.3,1317.7 1451.1,1317.7 1453.8,1317.7 1456.6,1317.7 1459.2,1317.7 1461.9,1317.7 1464.5,1317.7 1467.0,1317.6 1469.5,1317.6 1472.0,1317.6 1474.4,1317.5 1476.7,1317.5 1479.0,1317.4 1481.1,1317.4 1483.2,1317.3 1485.2,1317.2 1487.2,1317.1 1489.0,1317.0 1492.2,1316.8 1495.1,1316.5 1497.7,1316.2 1500.2,1315.8 1502.5,1315.5 1504.8,1315.1 1507.1,1314.8 1509.6,1314.5 1512.2,1314.2 1515.0,1314.0 1517.2,1313.9 1519.5,1313.8 1521.8,1313.7 1524.2,1313.6 1526.6,1313.6 1529.0,1313.6 1531.5,1313.5 1534.0,1313.5 1536.6,1313.5 1539.2,1313.6 1541.8,1313.6 1544.5,1313.6 1547.2,1313.6 1550.0,1313.6 1552.8,1313.6 1555.6,1313.6 1558.5,1313.6 1561.4,1313.6 1563.6,1313.6 1565.9,1313.6 1568.2,1313.6 1570.6,1313.5 1573.0,1313.5 1575.5,1313.5 1578.1,1313.5 1580.6,1313.5 1583.2,1313.5 1585.9,1313.5 1588.5,1313.5 1591.2,1313.5 1593.9,1313.4 1596.6,1313.4 1599.3,1313.4 1602.0,1313.4 1604.8,1313.4 1607.5,1313.4 1610.1,1313.4 1612.8,1313.3 1615.5,1313.3 1618.1,1313.3 1620.7,1313.3 1623.3,1313.3 1625.8,1313.2 1628.3,1313.2 1630.7,1313.2 1633.1,1313.2 1635.4,1313.1 1637.7,1313.1 1639.9,1313.0 1642.0,1313.0 1644.9,1312.9 1647.8,1312.9 1650.6,1312.8 1653.4,1312.7 1656.1,1312.6 1658.8,1312.6 1661.4,1312.5 1663.9,1312.4 1666.4,1312.3 1668.9,1312.2 1671.3,1312.1 1673.6,1312.0 1675.9,1311.9 1678.1,1311.8 1680.3,1311.7 1682.4,1311.6 1685.3,1311.4 1688.1,1311.3 1690.8,1311.1 1693.4,1310.9 1695.8,1310.8 1698.2,1310.6 1700.5,1310.4 1702.6,1310.2 1705.4,1309.8 1707.9,1309.4 1710.3,1309.1 1712.7,1309.0 1715.2,1309.3 1717.8,1309.9 1720.3,1310.5 1722.8,1310.6 1725.3,1310.1 1727.8,1309.3 1730.4,1308.3 1732.9,1307.6 1735.4,1307.1 1738.0,1306.7 1740.5,1306.5 1743.0,1306.6 1745.5,1307.0 1748.0,1307.8 1750.5,1308.7 1753.0,1309.6 1755.5,1310.6 1758.0,1311.6 1760.6,1312.7 1763.1,1313.6 1765.6,1314.5 1768.2,1315.3 1770.7,1315.9 1773.2,1316.0 1775.7,1315.4 1778.3,1314.2 1780.8,1312.8 1783.3,1311.6 1785.7,1310.8 1788.1,1310.0 1790.6,1309.3 1793.0,1308.6" fill="none" stroke="#00ff00" stroke-width="12" stroke-linejoin="round" stroke-linecap="round"/>
<polyline points="389.7,906.5 390.0,909.1 390.2,911.7 390.5,914.2 390.7,916.8 391.0,919.4 391.2,922.0 391.5,924.6 391.7,927.3 392.0,930.0 392.2,932.6 392.4,935.4 392.6,938.2 392.8,941.1 393.0,944.1 393.2,947.0 393.5,949.8 393.7,952.5 394.0,955.0 394.3,957.3 394.6,959.4 395.3,963.1 396.2,966.2 397.3,969.0 398.8,971.2 400.6,973.2 402.2,975.9 402.9,977.8 403.6,979.9 404.2,982.3 404.8,985.0 405.3,987.7 405.9,990.6 406.4,993.6 406.9,996.5 407.4,999.4 407.9,1002.2 408.4,1004.8 408.9,1007.4 409.4,1010.1 409.9,1012.9 410.4,1015.6 410.9,1018.2 411.3,1020.8 411.8,1023.4 412.3,1025.7 412.8,1028.0 413.3,1030.0 414.1,1032.8 415.0,1035.2 415.9,1037.5 416.7,1040.0 417.3,1042.3 417.9,1044.8 418.4,1047.3 419.0,1049.9 419.6,1052.5 420.3,1055.0 421.2,1057.6 422.2,1060.1 423.2,1062.6 424.3,1065.2 425.4,1067.7 426.4,1070.3 427.4,1072.9 428.3,1075.5 429.2,1078.2 430.1,1080.8 431.0,1083.4 432.0,1086.0 433.0,1088.5 434.1,1091.0 435.1,1093.4 436.2,1095.8 437.4,1098.2 438.5,1100.5 439.7,1103.0 441.0,1105.4 442.3,1107.7 443.6,1109.9 445.0,1112.0 447.1,1115.2 449.3,1118.1 451.6,1119.5 453.8,1118.5 456.1,1116.1 458.5,1113.5 460.1,1111.9 461.9,1110.1 463.6,1108.3 465.4,1106.3 467.1,1104.4 468.8,1102.5 470.6,1100.3 472.4,1098.2 474.1,1096.0 475.9,1093.8 477.6,1091.5 479.3,1089.3 481.0,1087.1 482.7,1084.8 484.3,1082.4 485.9,1080.1 487.2,1077.7 488.4,1074.9 489.3,1072.0 490.1,1069.1 491.0,1066.3 492.0,1063.9 493.5,1061.4 495.0,1059.1 496.8,1057.0 499.1,1054.8 501.5,1052.7 503.7,1050.2 505.0,1047.8 506.0,1045.1 507.0,1042.2 507.8,1039.3 508.6,1036.4 509.3,1033.7 509.8,1030.9 510.2,1028.1 510.7,1025.4 511.3,1022.6 512.0,1019.7 512.9,1016.6 513.7,1013.6 514.6,1011.0 515.4,1008.8 516.3,1006.7 517.5,1005.3 519.7,1005.1 522.5,1005.4 525.1,1005.3 528.2,1003.7 530.6,1001.3 531.9,998.5 532.7,995.1 533.3,992.7 533.9,989.9 534.5,986.9 535.1,984.0 535.8,981.3 536.5,978.7 537.2,976.1 537.9,973.8 538.8,971.7 540.5,968.6 542.3,967.0 544.0,968.2 545.7,971.0 547.1,974.4 547.7,976.4 548.1,978.7 548.3,981.2 548.5,983.9 548.6,986.6 548.8,989.5 548.9,992.3 549.2,995.1 549.5,997.5 549.8,999.9 550.1,1002.3 550.4,1004.8 550.7,1007.3 551.0,1009.9 551.4,1012.4 551.7,1015.0 552.0,1017.5 552.3,1020.1 552.6,1022.6 552.9,1025.1 553.2,1027.6 553.4,1030.1 553.7,1032.6 553.9,1035.1 554.2,1037.6 554.4,1040.1 554.7,1042.6 554.9,1045.1 555.2,1047.6 555.4,1050.2 555.6,1052.9 555.9,1055.6 556.1,1058.3 556.3,1061.0 556.6,1063.7 556.8,1066.5 557.0,1069.2 557.2,1071.9 557.4,1074.6 557.6,1077.3 557.8,1080.0 558.0,1082.5 558.1,1085.1 558.3,1087.6 558.4,1090.1 558.6,1092.6 558.7,1095.1 558.8,1097.5 559.0,1100.0 559.1,1102.5 559.3,1105.0 559.5,1107.5 559.7,1110.0 559.9,1112.5 560.1,1115.0 560.3,1117.5 560.6,1120.1 560.8,1122.6 561.1,1125.1 561.3,1127.6 561.6,1130.1 561.9,1132.6 562.2,1135.1 562.5,1137.6 562.9,1140.1 563.2,1142.6 563.6,1145.1 564.0,1147.6 564.4,1150.1 564.8,1152.6 565.2,1155.1 565.6,1157.6 566.0,1160.1 566.4,1162.6 566.8,1165.1 567.2,1167.8 567.6,1170.4 568.1,1173.0 568.5,1175.7 568.9,1178.3 569.4,1180.9 569.8,1183.4 570.3,1185.8 570.7,1188.1 571.2,1190.2 571.9,1193.3 572.6,1196.2 573.3,1198.9 574.1,1201.4 575.0,1203.9 576.1,1206.6 577.3,1209.2 578.7,1211.6 580.5,1213.6 582.5,1215.1 584.8,1216.5 587.3,1217.6 589.9,1218.3 592.3,1218.5 594.6,1218.0 596.9,1217.0 599.2,1215.5 601.4,1213.9 603.3,1212.2 605.3,1210.0 607.0,1207.5 608.5,1204.9 610.2,1202.5 611.9,1200.4 613.5,1198.3 615.2,1196.3 617.0,1194.6 619.2,1193.1 621.6,1191.8 623.9,1190.2 625.7,1188.4 627.4,1186.4 629.2,1184.1 630.9,1181.7 632.5,1179.1 633.8,1176.8 635.1,1174.2 636.4,1171.6 637.6,1168.9 638.7,1166.2 639.8,1163.6 640.8,1161.2 641.9,1158.1 642.8,1155.1 643.8,1152.4 645.0,1150.0 646.6,1147.8 648.4,1145.9 650.5,1144.6 653.6,1143.9 657.2,1143.7 660.0,1143.9 661.3,1144.3 662.4,1144.5 664.1,1143.4 665.9,1141.4 667.5,1138.8 668.4,1136.8 669.2,1134.4 669.9,1131.7 670.5,1128.9 671.1,1126.0 671.8,1123.3 672.5,1120.7 673.3,1118.0 674.1,1115.3 674.9,1112.6 675.7,1110.0 676.6,1107.8 677.6,1106.0 679.5,1103.5 681.6,1102.5 683.3,1103.5 685.0,1105.8 686.6,1108.6 687.4,1110.4 688.2,1112.5 688.9,1114.9 689.5,1117.4 690.2,1120.1 690.8,1122.8 691.4,1125.6 692.0,1128.3 692.7,1130.8 693.4,1133.3 694.0,1135.8 694.7,1138.3 695.3,1140.9 696.0,1143.4 696.6,1145.9 697.3,1148.3 698.0,1150.7 698.7,1153.0 699.6,1155.9 700.6,1158.8 701.5,1161.6 702.5,1164.2 703.6,1166.8 704.8,1169.1 706.4,1172.0 708.2,1174.9 710.0,1177.1 711.9,1178.2 714.2,1177.5 716.7,1175.5 718.9,1173.1 720.3,1171.1 721.6,1168.7 722.8,1166.2 723.9,1163.5 725.0,1161.0 726.0,1158.6 727.0,1156.2 727.9,1153.7 728.8,1151.3 729.8,1148.8 730.8,1146.6 731.8,1144.3 732.9,1142.0 734.0,1139.7 735.0,1137.4 736.0,1135.1 737.1,1132.4 738.0,1129.8 739.0,1127.1 739.9,1124.3 740.8,1121.3 741.5,1118.9 742.1,1116.3 742.7,1113.6 743.3,1110.9 743.9,1108.1 744.6,1105.4 745.2,1102.7 745.9,1100.0 746.6,1097.4 747.4,1094.7 748.2,1092.0 749.0,1089.3 749.8,1086.7 750.6,1084.3 751.3,1082.0 751.9,1080.0 752.7,1077.5 753.3,1075.4 754.1,1072.8 754.7,1071.0 755.4,1068.9 756.1,1066.6 756.9,1064.1 757.8,1061.5 758.7,1058.8 759.6,1056.0 760.4,1053.2 761.2,1050.5 762.0,1047.8 762.7,1045.2 763.3,1042.7 763.9,1040.2 764.4,1037.7 764.9,1035.2 765.4,1032.7 765.9,1030.2 766.4,1027.7 766.8,1025.2 767.3,1022.7 767.7,1020.2 768.2,1017.7 768.7,1015.2 769.1,1012.7 769.6,1010.2 770.0,1007.7 770.4,1005.2 770.9,1002.7 771.3,1000.2 771.7,997.7 772.1,995.2 772.6,992.7 773.0,990.2 773.4,987.7 773.9,985.2 774.3,982.7 774.8,980.2 775.3,977.7 775.7,975.2 776.1,972.6 776.6,970.1 777.0,967.6 777.4,965.1 777.8,962.6 778.2,960.1 778.5,957.6 778.8,955.1 779.1,952.6 779.4,950.1 779.7,947.6 780.0,945.1 780.3,942.6 780.6,940.1 780.9,937.6 781.3,935.1 781.7,932.6 782.1,930.1 782.5,927.6 782.9,925.1 783.3,922.5 783.8,920.0 784.2,917.5 784.7,915.0 785.1,912.5 785.6,910.0 786.1,907.5 786.6,904.9 787.2,902.2 787.8,899.5 788.4,896.7 789.0,894.0 789.6,891.3 790.2,888.7 790.8,886.2 791.4,883.9 791.9,881.8 792.3,880.0 793.2,876.3 794.1,872.8 794.7,870.3 795.3,867.6 795.9,864.7 796.5,861.8 797.2,859.0 797.9,856.2 798.5,853.5 799.2,850.7 799.9,847.9 800.7,845.2 801.5,842.4 802.4,839.7 803.3,837.0 804.2,834.2 805.1,831.5 806.0,828.7 806.9,826.0 807.8,823.2 808.7,820.5 809.6,817.7 810.4,814.9 811.2,812.2 812.0,809.4 812.7,806.7 813.4,803.9 814.0,801.2 814.6,798.7 815.1,796.0 815.7,793.3 816.2,790.2 816.5,788.1 816.9,785.8 817.2,783.4 817.5,780.9 817.8,778.3 818.1,775.7 818.4,773.0 818.7,770.4 819.0,767.7 819.3,765.1 819.6,762.6 819.9,760.1 820.2,757.6 820.5,755.1 820.9,752.6 821.2,750.1 821.5,747.6 821.8,745.1 822.1,742.6 822.4,740.1 822.7,737.6 823.0,735.1 823.3,732.6 823.5,730.1 823.8,727.6 824.1,725.1 824.3,722.6 824.6,720.0 824.8,717.5 825.1,715.0 825.3,712.5 825.5,710.0 825.8,707.5 826.1,705.0 826.3,702.6 826.6,700.1 826.8,697.7 827.1,695.2 827.3,692.8 827.6,690.3 827.8,687.8 828.1,685.3 828.3,682.7 828.6,680.0 828.8,677.7 829.0,675.3 829.3,673.0 829.5,670.6 829.7,668.1 829.9,665.7 830.1,663.2 830.4,660.7 830.6,658.2 830.8,655.6 831.1,653.0 831.3,650.3 831.5,647.6 831.8,644.9 832.0,642.1 832.2,639.8 832.4,637.5 832.6,635.1 832.8,632.7 833.0,630.2 833.2,627.7 833.4,625.1 833.6,622.5 833.8,619.9 834.0,617.3 834.2,614.6 834.4,612.0 834.6,609.3 834.8,606.7 835.0,604.0 835.2,601.4 835.4,598.8 835.6,596.2 835.9,593.6 836.1,591.1 836.3,588.7 836.5,586.3 836.8,583.9 837.0,581.6 837.3,578.8 837.6,576.0 837.8,573.2 838.1,570.4 838.4,567.6 838.7,564.8 839.0,562.1 839.3,559.4 839.6,556.8 839.9,554.2 840.2,551.8 840.5,549.4 840.9,547.2 841.2,545.0 841.6,543.0 842.0,541.2 842.7,538.2 843.5,535.6 844.2,533.3 845.1,531.1 846.1,529.1 847.7,526.2 849.4,523.6 851.1,522.5 852.9,524.0 854.6,527.3 856.2,531.1 857.0,533.2 857.6,535.6 858.3,538.2 858.9,540.9 859.5,543.6 860.0,546.3 860.6,548.9 861.2,551.3 862.0,554.4 862.8,557.4 863.5,560.3 864.4,563.0 865.3,565.4 866.6,568.3 868.0,570.9 869.3,571.9 870.4,570.8 871.4,568.1 872.4,564.8 873.3,561.4 873.9,559.3 874.5,557.0 875.0,554.6 875.5,552.2 876.0,549.6 876.5,546.9 876.9,544.1 877.4,541.2 877.7,539.1 878.0,536.9 878.3,534.6 878.6,532.3 878.8,529.9 879.1,527.4 879.3,524.9 879.6,522.4 879.8,519.8 880.0,517.2 880.3,514.5 880.5,511.8 880.7,509.1 880.9,506.4 881.2,503.7 881.4,500.9 881.6,498.6 881.8,496.2 882.0,493.8 882.1,491.3 882.3,488.8 882.5,486.3 882.7,483.8 882.8,481.2 883.0,478.6 883.2,476.0 883.4,473.4 883.5,470.8 883.7,468.1 883.9,465.5 884.0,462.9 884.2,460.2 884.4,457.6 884.5,455.0 884.7,452.4 884.9,449.9 885.0,447.3 885.2,444.8 885.4,442.3 885.6,439.6 885.8,436.9 886.0,434.3 886.2,431.6 886.4,429.0 886.6,426.3 886.9,423.7 887.1,421.1 887.3,418.5 887.5,415.8 887.7,413.2 887.9,410.6 888.1,408.0 888.3,405.5 888.5,402.9 888.7,400.3 888.9,397.7 889.1,395.1 889.3,392.6 889.5,390.0 889.7,387.4 889.9,384.8 890.0,382.2 890.2,379.6 890.4,377.0 890.5,374.4 890.7,371.8 890.8,369.2 891.0,366.6 891.1,364.0 891.3,361.5 891.4,358.9 891.6,356.4 891.7,353.8 891.9,351.3 892.0,348.8 892.2,346.3 892.3,343.8 892.5,341.4 892.7,338.8 892.8,336.1 893.0,333.5 893.2,330.9 893.3,328.3 893.5,325.7 893.7,323.2 893.8,320.6 894.0,318.1 894.1,315.6 894.3,313.1 894.5,310.6 894.6,308.2 894.8,305.7 894.9,303.4 895.1,301.0 895.3,298.3 895.5,295.7 895.6,293.1 895.8,290.5 896.0,288.0 896.1,285.4 896.3,282.9 896.5,280.5 896.7,278.0 896.8,275.6 897.0,273.2 897.2,270.8 897.4,267.9 897.6,264.9 897.7,262.0 897.9,259.1 898.0,256.2 898.2,253.5 898.5,250.8 898.9,248.3 899.3,246.0 900.0,242.9 900.9,239.7 901.8,236.8 902.8,234.8 903.7,234.0 904.6,234.8 905.5,236.8 906.5,239.7 907.3,242.9 908.0,246.0 908.4,248.3 908.8,250.8 909.0,253.5 909.2,256.2 909.3,259.1 909.5,262.0 909.6,264.9 909.8,267.9 910.0,270.8 910.2,273.2 910.4,275.6 910.6,278.0 910.9,280.5 911.1,282.9 911.3,285.4 911.6,288.0 911.8,290.5 912.0,293.1 912.3,295.7 912.5,298.3 912.7,301.0 912.9,303.4 913.1,305.8 913.2,308.2 913.4,310.7 913.6,313.2 913.7,315.7 913.9,318.3 914.0,320.8 914.2,323.4 914.4,326.0 914.5,328.6 914.7,331.2 914.8,333.7 915.0,336.3 915.1,338.9 915.3,341.4 915.5,343.9 915.6,346.4 915.8,348.8 915.9,351.3 916.1,353.7 916.2,356.2 916.4,358.6 916.5,361.0 916.7,363.5 916.8,366.0 917.0,368.5 917.1,371.0 917.3,373.6 917.4,376.3 917.5,379.0 917.7,381.7 917.8,384.0 917.9,386.3 918.1,388.7 918.2,391.1 918.3,393.5 918.4,396.0 918.6,398.5 918.7,401.0 918.8,403.6 918.9,406.2 919.1,408.7 919.2,411.3 919.3,413.9 919.4,416.5 919.6,419.1 919.7,421.8 919.8,424.4 919.9,427.0 920.1,429.6 920.2,432.1 920.3,434.7 920.4,437.3 920.6,439.8 920.7,442.3 920.8,444.9 921.0,447.5 921.1,450.1 921.2,452.8 921.4,455.5 921.5,458.2 921.6,460.9 921.8,463.6 921.9,466.3 922.0,469.0 922.2,471.7 922.3,474.4 922.4,477.0 922.6,479.6 922.7,482.1 922.8,484.6 923.0,487.0 923.1,489.4 923.2,491.7 923.4,493.9 923.5,496.0 923.7,498.1 923.8,500.0 924.0,503.0 924.3,505.6 924.5,508.0 924.8,510.2 925.0,512.4 925.3,514.9 925.5,517.7 925.8,521.0 925.9,522.7 926.1,524.5 926.2,526.4 926.3,528.5 926.5,530.6 926.6,532.9 926.7,535.3 926.9,537.8 927.0,540.3 927.2,542.9 927.3,545.6 927.5,548.4 927.6,551.2 927.8,554.1 927.9,557.0 928.1,559.9 928.2,562.9 928.4,565.9 928.5,568.9 928.7,571.9 928.9,574.9 929.0,577.9 929.2,580.8 929.3,583.8 929.5,586.7 929.7,589.6 929.8,592.4 930.0,595.2 930.1,597.9 930.3,600.5 930.5,603.1 930.6,605.6 930.8,608.0 930.9,610.3 931.1,612.4 931.2,614.5 931.4,616.5 931.5,618.3 931.7,620.0 932.0,623.5 932.4,626.7 932.7,629.6 933.1,632.2 933.4,634.7 933.7,637.1 934.1,639.5 934.5,642.0 935.0,644.9 935.4,647.7 935.9,650.5 936.4,653.2 937.0,655.7 937.5,658.0 938.3,661.5 939.2,664.6 940.1,666.0 941.0,664.6 941.9,661.5 942.8,658.0 943.4,655.7 943.9,653.2 944.4,650.5 944.9,647.7 945.3,644.9 945.8,642.0 946.2,639.4 946.6,636.8 947.0,634.1 947.5,631.4 947.8,628.6 948.2,625.8 948.6,622.9 948.9,620.0 949.2,617.4 949.4,614.8 949.6,612.1 949.8,609.3 950.0,606.6 950.2,603.8 950.3,601.1 950.5,598.3 950.7,595.5 950.9,592.8 951.1,590.3 951.3,587.8 951.5,585.3 951.7,582.8 951.8,580.3 952.0,577.8 952.2,575.2 952.4,572.7 952.6,570.2 952.8,567.7 953.0,565.2 953.2,562.7 953.4,560.2 953.6,557.7 953.8,555.2 954.0,552.7 954.2,550.2 954.3,547.7 954.5,545.2 954.7,542.7 954.9,540.2 955.1,537.7 955.3,535.2 955.5,532.7 955.7,530.2 955.8,527.7 956.0,525.2 956.2,522.7 956.4,520.2 956.6,517.7 956.7,515.2 956.9,512.7 957.1,510.2 957.3,507.7 957.5,505.2 957.7,502.7 957.9,500.2 958.0,497.7 958.2,495.1 958.4,492.6 958.6,490.1 958.8,487.6 959.0,485.1 959.2,482.6 959.4,480.1 959.6,477.5 959.8,474.9 959.9,472.3 960.1,469.8 960.3,467.2 960.5,464.7 960.7,462.2 960.9,459.7 961.1,457.4 961.3,455.1 961.6,452.3 961.8,449.6 962.1,446.9 962.4,444.3 962.7,441.8 963.0,439.5 963.3,437.2 963.8,434.3 964.2,431.6 964.8,429.0 965.4,426.9 966.4,424.3 967.5,422.9 968.5,424.3 969.5,426.9 970.1,429.1 970.6,431.6 971.1,434.3 971.6,437.2 971.9,439.5 972.3,441.8 972.6,444.3 972.9,446.9 973.2,449.6 973.4,452.3 973.7,455.1 973.9,457.4 974.1,459.7 974.3,462.2 974.5,464.7 974.6,467.2 974.8,469.8 975.0,472.3 975.2,474.9 975.3,477.5 975.5,480.1 975.7,482.6 975.9,485.1 976.1,487.6 976.3,490.1 976.5,492.6 976.7,495.1 976.9,497.7 977.1,500.2 977.2,502.7 977.4,505.2 977.6,507.7 977.8,510.2 978.0,512.7 978.2,515.2 978.3,517.7 978.5,520.2 978.7,522.7 978.8,525.2 979.0,527.7 979.1,530.2 979.3,532.7 979.5,535.2 979.6,537.7 979.7,540.2 979.9,542.7 980.0,545.2 980.2,547.7 980.3,550.2 980.4,552.7 980.5,555.2 980.7,557.7 980.8,560.2 980.9,562.7 981.0,565.2 981.1,567.7 981.2,570.2 981.3,572.7 981.4,575.2 981.4,577.8 981.5,580.3 981.6,582.8 981.7,585.3 981.7,587.8 981.8,590.3 981.9,592.8 982.0,595.5 982.1,598.3 982.2,601.1 982.3,603.8 982.4,606.6 982.5,609.3 982.6,612.1 982.7,614.7 982.8,617.4 982.9,620.0 983.0,622.8 983.1,625.5 983.2,628.2 983.3,630.8 983.4,633.4 983.5,636.2 983.6,639.0 983.7,642.1 983.8,644.3 983.9,646.6 984.0,648.9 984.1,651.4 984.3,653.9 984.4,656.4 984.6,659.0 984.7,661.6 984.8,664.2 985.0,666.9 985.1,669.5 985.2,672.1 985.4,674.8 985.5,677.3 985.6,679.9 985.7,682.4 985.8,684.9 985.9,687.3 985.9,689.6 986.0,691.9 986.0,694.1 986.1,696.4 986.1,698.6 986.2,700.9 986.2,703.3 986.3,705.7 986.3,708.3 986.4,711.0 986.5,713.8 986.6,716.8 986.7,720.0 986.8,721.7 986.8,723.6 986.9,725.4 987.0,727.3 987.1,729.3 987.1,731.3 987.2,733.4 987.3,735.5 987.4,737.6 987.5,739.8 987.6,742.1 987.7,744.3 987.8,746.7 987.9,749.0 988.0,751.4 988.2,753.9 988.3,756.3 988.4,758.8 988.5,761.3 988.6,763.9 988.7,766.5 988.9,769.1 989.0,771.7 989.1,774.4 989.3,777.0 989.4,779.7 989.5,782.4 989.6,785.1 989.8,787.9 989.9,790.6 990.0,793.4 990.2,796.2 990.3,798.9 990.5,801.7 990.6,804.5 990.7,807.3 990.9,810.1 991.0,812.9 991.1,815.7 991.3,818.5 991.4,821.3 991.5,824.0 991.7,826.8 991.8,829.6 991.9,832.3 992.1,835.1 992.2,837.8 992.3,840.5 992.5,843.2 992.6,845.8 992.7,848.5 992.8,851.1 992.9,853.7 993.1,856.3 993.2,858.9 993.3,861.4 993.4,863.9 993.5,866.5 993.6,869.1 993.8,871.7 993.9,874.3 994.0,876.9 994.1,879.6 994.2,882.2 994.3,884.9 994.4,887.5 994.6,890.2 994.7,892.9 994.8,895.6 994.9,898.3 995.0,901.0 995.1,903.7 995.2,906.4 995.4,909.1 995.5,911.8 995.6,914.6 995.7,917.3 995.8,920.0 995.9,922.7 996.0,925.4 996.2,928.0 996.3,930.7 996.4,933.4 996.5,936.1 996.6,938.7 996.7,941.3 996.8,944.0 996.9,946.6 997.0,949.2 997.2,951.7 997.3,954.3 997.4,956.8 997.5,959.4 997.6,961.9 997.7,964.3 997.8,966.8 997.9,969.2 998.0,971.6 998.1,974.0 998.2,976.3 998.3,978.7 998.5,980.9 998.6,983.2 998.7,985.4 998.8,987.6 998.9,989.8 999.0,991.9 999.1,994.0 999.2,996.0 999.3,998.0 999.4,1000.0 999.6,1003.0 999.7,1005.9 999.9,1008.8 1000.0,1011.5 1000.2,1014.2 1000.3,1016.8 1000.5,1019.4 1000.6,1021.8 1000.8,1024.3 1000.9,1026.7 1001.1,1029.1 1001.2,1031.4 1001.4,1033.7 1001.5,1036.1 1001.7,1038.4 1001.8,1040.7 1002.0,1043.0 1002.1,1045.3 1002.3,1047.7 1002.5,1050.1 1002.6,1052.5 1002.8,1055.0 1003.0,1057.5 1003.2,1060.0 1003.3,1062.5 1003.5,1065.0 1003.7,1067.5 1003.9,1070.0 1004.0,1072.5 1004.2,1075.0 1004.4,1077.5 1004.6,1080.0 1004.8,1082.5 1005.0,1085.0 1005.2,1087.5 1005.4,1090.0 1005.6,1092.5 1005.8,1095.0 1006.0,1097.5 1006.2,1100.0 1006.4,1102.5 1006.6,1105.0 1006.9,1107.5 1007.1,1110.0 1007.3,1112.5 1007.6,1115.0 1007.8,1117.5 1008.1,1120.0 1008.3,1122.5 1008.5,1125.0 1008.8,1127.5 1009.1,1130.0 1009.3,1132.5 1009.6,1135.1 1009.8,1137.6 1010.1,1140.1 1010.4,1142.6 1010.7,1145.1 1010.9,1147.6 1011.2,1150.1 1011.5,1152.6 1011.8,1155.1 1012.1,1157.6 1012.4,1160.1 1012.7,1162.6 1013.0,1165.1 1013.3,1167.6 1013.6,1170.2 1014.0,1172.8 1014.3,1175.4 1014.6,1178.0 1015.0,1180.7 1015.3,1183.3 1015.7,1185.9 1016.0,1188.6 1016.4,1191.2 1016.8,1193.8 1017.1,1196.4 1017.5,1199.0 1017.8,1201.6 1018.2,1204.1 1018.6,1206.6 1018.9,1209.0 1019.3,1211.3 1019.6,1213.7 1019.9,1215.9 1020.3,1218.1 1020.6,1220.2 1021.0,1223.1 1021.4,1225.8 1021.8,1228.4 1022.2,1230.9 1022.5,1233.4 1022.9,1235.8 1023.3,1238.2 1023.7,1240.5 1024.2,1242.9 1024.8,1245.3 1025.4,1247.7 1026.1,1250.3 1026.9,1252.8 1027.8,1255.4 1028.7,1258.1 1029.6,1260.7 1030.6,1263.2 1031.6,1265.8 1032.6,1268.2 1033.7,1270.6 1034.7,1273.0 1035.7,1275.2 1037.0,1278.0 1038.3,1280.7 1039.6,1283.2 1041.0,1285.7 1042.4,1288.1 1043.8,1290.3 1045.4,1292.4 1047.4,1294.7 1049.5,1296.8 1051.7,1298.8 1054.0,1300.5 1056.4,1302.1 1059.0,1303.4 1061.7,1304.6 1064.5,1305.5 1067.4,1306.4 1070.2,1307.2 1072.9,1308.0 1075.7,1308.6 1078.4,1309.2 1081.1,1309.8 1083.9,1310.3 1086.6,1310.7 1089.2,1311.1 1091.9,1311.4 1094.7,1311.7 1097.7,1312.0 1100.1,1312.2 1102.6,1312.4 1105.1,1312.5 1107.7,1312.7 1110.4,1312.8 1113.3,1312.9 1116.5,1313.0 1120.0,1313.1 1121.8,1313.1 1123.6,1313.2 1125.6,1313.2 1127.6,1313.3 1129.7,1313.3 1131.9,1313.3 1134.1,1313.4 1136.4,1313.4 1138.8,1313.4 1141.2,1313.4 1143.7,1313.4 1146.2,1313.5 1148.7,1313.5 1151.3,1313.5 1154.0,1313.5 1156.6,1313.5 1159.3,1313.5 1162.0,1313.5 1164.7,1313.5 1167.5,1313.5 1170.2,1313.5 1173.0,1313.5 1175.8,1313.6 1178.5,1313.6 1181.3,1313.6 1184.0,1313.6 1186.7,1313.6 1189.4,1313.6 1192.1,1313.6 1194.8,1313.6 1197.4,1313.6 1200.0,1313.6 1202.5,1313.6 1205.0,1313.6 1207.6,1313.6 1210.2,1313.7 1212.9,1313.7 1215.6,1313.7 1218.3,1313.7 1221.1,1313.7 1223.9,1313.8 1226.7,1313.8 1229.6,1313.8 1232.4,1313.8 1235.3,1313.8 1238.1,1313.9 1241.0,1313.9 1243.8,1313.9 1246.6,1313.9 1249.4,1313.9 1252.2,1314.0 1254.9,1314.0 1257.6,1314.0 1260.3,1314.0 1262.9,1314.0 1265.4,1314.0 1267.9,1314.0 1270.3,1314.0 1272.7,1314.0 1275.0,1313.9 1277.2,1313.9 1279.3,1313.9 1281.4,1313.9 1283.3,1313.8 1285.1,1313.8 1286.9,1313.7 1288.5,1313.7 1290.0,1313.6 1293.2,1313.4 1296.0,1313.1 1298.4,1312.9 1300.5,1312.6 1302.7,1312.4 1305.0,1312.2 1307.7,1312.1 1310.3,1311.9 1312.9,1311.9 1315.5,1312.0 1318.0,1312.2 1320.8,1312.8 1323.4,1313.8 1326.3,1314.7 1330.0,1315.5 1331.5,1315.7 1333.2,1315.9 1334.9,1316.0 1336.8,1316.1 1338.8,1316.2 1340.9,1316.3 1343.1,1316.4 1345.4,1316.4 1347.7,1316.5 1350.2,1316.5 1352.7,1316.5 1355.3,1316.5 1357.9,1316.5 1360.6,1316.5 1363.3,1316.5 1366.1,1316.5 1368.9,1316.4 1371.7,1316.4 1374.5,1316.4 1377.4,1316.3 1380.3,1316.3 1383.1,1316.3 1386.0,1316.2 1388.8,1316.2 1391.7,1316.2 1394.5,1316.2 1397.3,1316.2 1400.0,1316.2 1402.3,1316.2 1404.6,1316.2 1406.9,1316.2 1409.3,1316.3 1411.6,1316.3 1414.0,1316.3 1416.4,1316.3 1418.9,1316.3 1421.3,1316.3 1423.7,1316.3 1426.2,1316.3 1428.7,1316.3 1431.2,1316.4 1433.7,1316.4 1436.2,1316.4 1438.7,1316.4 1441.3,1316.4 1443.8,1316.4 1446.3,1316.4 1448.9,1316.4 1451.4,1316.4 1454.0,1316.4 1456.6,1316.4 1459.1,1316.4 1461.7,1316.4 1464.3,1316.4 1466.9,1316.4 1469.4,1316.5 1472.0,1316.5 1474.6,1316.5 1477.2,1316.5 1479.7,1316.5 1482.3,1316.5 1484.8,1316.5 1487.4,1316.5 1489.9,1316.5 1492.5,1316.5 1495.0,1316.5 1497.5,1316.5 1500.0,1316.5 1502.5,1316.5 1505.0,1316.5 1507.5,1316.5 1510.0,1316.5 1512.6,1316.5 1515.1,1316.5 1517.6,1316.5 1520.2,1316.5 1522.7,1316.5 1525.2,1316.5 1527.8,1316.5 1530.3,1316.5 1532.9,1316.5 1535.4,1316.5 1537.9,1316.5 1540.5,1316.5 1543.0,1316.5 1545.6,1316.5 1548.1,1316.5 1550.6,1316.5 1553.1,1316.5 1555.7,1316.5 1558.2,1316.5 1560.7,1316.5 1563.2,1316.5 1565.7,1316.5 1568.2,1316.5 1570.7,1316.5 1573.2,1316.5 1575.7,1316.5 1578.2,1316.5 1580.6,1316.5 1583.1,1316.5 1585.5,1316.5 1588.0,1316.5 1590.4,1316.5 1592.8,1316.5 1595.2,1316.5 1597.6,1316.5 1600.0,1316.5 1602.7,1316.5 1605.4,1316.5 1608.2,1316.5 1611.0,1316.5 1613.8,1316.6 1616.7,1316.6 1619.5,1316.6 1622.3,1316.6 1625.2,1316.6 1628.1,1316.7 1630.9,1316.7 1633.7,1316.7 1636.6,1316.7 1639.4,1316.7 1642.2,1316.8 1644.9,1316.8 1647.6,1316.8 1650.3,1316.8 1653.0,1316.8 1655.6,1316.9 1658.2,1316.9 1660.7,1316.9 1663.1,1316.9 1665.5,1316.9 1667.9,1316.9 1670.1,1316.9 1672.3,1316.8 1674.4,1316.8 1676.4,1316.8 1678.4,1316.8 1680.2,1316.7 1682.0,1316.7 1685.2,1316.6 1688.1,1316.4 1690.7,1316.2 1693.2,1316.0 1695.5,1315.8 1697.8,1315.7 1700.1,1315.6 1702.6,1315.6 1705.1,1315.7 1707.7,1316.0 1710.2,1316.3 1712.7,1316.6 1715.2,1317.0 1717.8,1317.3 1720.3,1317.6 1722.8,1317.7 1725.3,1317.7 1727.9,1317.6 1730.4,1317.3 1732.9,1317.1 1735.4,1316.8 1738.0,1316.7 1740.5,1316.6 1743.0,1316.7 1745.6,1317.1 1748.2,1317.7 1750.9,1318.5 1753.5,1319.4 1756.1,1320.1 1758.6,1320.7 1760.9,1320.9 1763.0,1320.7 1765.3,1319.5 1767.3,1317.6 1769.2,1315.5 1771.0,1313.6 1773.0,1312.6 1775.4,1312.7 1777.9,1313.6 1780.5,1314.8 1783.0,1315.6 1785.5,1316.0 1788.0,1316.3 1790.5,1316.5 1793.0,1316.7" fill="none" stroke="#0000ff" stroke-width="12" stroke-linejoin="round" stroke-linecap="round"/>
</g>
<filter id="hard" filterUnits="userSpaceOnUse" x="0" y="0" width="2082" height="1598" color-interpolation-filters="sRGB"><feComponentTransfer><feFuncA type="discrete" tableValues="0 1"/></feComponentTransfer></filter>
<g font-family="'Liberation Sans', sans-serif" font-weight="bold" fill="#000" filter="url(#hard)">
<g font-size="84.4" text-anchor="middle">
<text transform="translate(554.8 1428.3) scale(1 1.037)">300</text>
<text transform="translate(760.8 1428.3) scale(1 1.037)">400</text>
<text transform="translate(967.8 1428.3) scale(1 1.037)">500</text>
<text transform="translate(1173.8 1428.3) scale(1 1.037)">600</text>
<text transform="translate(1379.8 1428.3) scale(1 1.037)">700</text>
<text transform="translate(1585.8 1428.3) scale(1 1.037)">800</text>
<text transform="translate(1792.8 1428.3) scale(1 1.037)">900</text>
</g>
<g font-size="95.3" text-anchor="end">
<text transform="translate(351.8 1352.3) scale(1 1.03)">0.00</text>
<text transform="translate(351.8 1019.8) scale(1 1.03)">0.25</text>
<text transform="translate(351.8 687.2) scale(1 1.03)">0.50</text>
<text transform="translate(351.8 354.6) scale(1 1.03)">0.75</text>
</g>
<text x="1091.1" y="1553.8" font-size="109.2" text-anchor="middle">Wavelength (nm)</text>
<text transform="translate(104.8 805.7) rotate(-90)" font-size="109.2" text-anchor="middle">Abs.</text>
<line x1="1466.5" y1="92.9" x2="1633.5" y2="92.9" stroke="#000000" stroke-width="12" stroke-linecap="round"/>
<text x="1687" y="119.4" font-size="96.4">2 min</text>
<line x1="1466.5" y1="212" x2="1633.5" y2="212" stroke="#ff0000" stroke-width="12" stroke-linecap="round"/>
<text x="1687" y="238.5" font-size="96.4">6 min</text>
<line x1="1466.5" y1="331.2" x2="1633.5" y2="331.2" stroke="#00ff00" stroke-width="12" stroke-linecap="round"/>
<text x="1687" y="357.7" font-size="96.4">30 min</text>
<line x1="1466.5" y1="450" x2="1633.5" y2="450" stroke="#0000ff" stroke-width="12" stroke-linecap="round"/>
<text x="1687" y="476.5" font-size="96.4">60 min</text>
</g>
</svg>
</body>
</html>
